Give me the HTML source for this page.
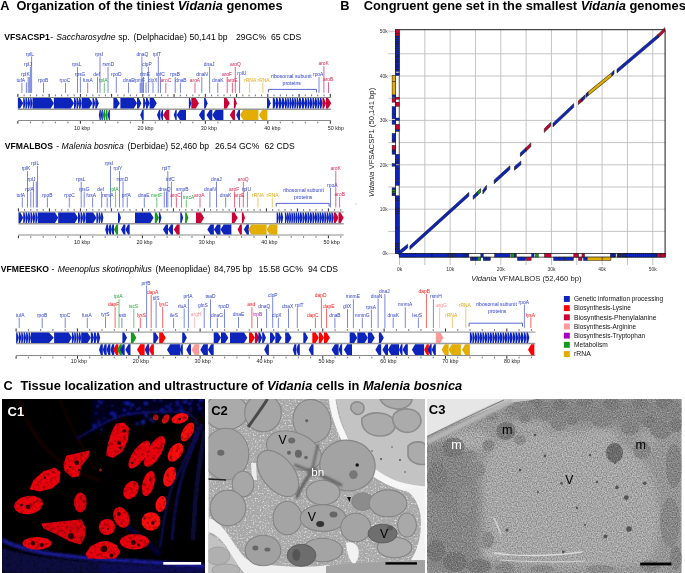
<!DOCTYPE html>
<html><head><meta charset="utf-8"><title>Vidania genomes figure</title>
<style>html,body{margin:0;padding:0;background:#fff;width:685px;height:573px;overflow:hidden}
body>svg{display:block;font-family:"Liberation Sans",sans-serif;will-change:transform;filter:blur(0.35px)}</style></head>
<body><svg width="685" height="573" viewBox="0 0 685 573">
<defs>
<filter id="blur1" x="-10%" y="-10%" width="120%" height="120%"><feGaussianBlur stdDeviation="1.2"/></filter>
<filter id="blur2" x="-10%" y="-10%" width="120%" height="120%"><feGaussianBlur stdDeviation="0.5"/></filter>
<filter id="noise" x="0" y="0" width="100%" height="100%"><feTurbulence type="fractalNoise" baseFrequency="0.35" numOctaves="2" seed="3"/><feColorMatrix type="matrix" values="0 0 0 0 0.55  0 0 0 0 0.55  0 0 0 0 0.55  0 0 0 1.6 -0.45"/><feComposite in2="SourceGraphic" operator="in"/></filter>
<filter id="blur3" x="-20%" y="-20%" width="140%" height="140%"><feGaussianBlur stdDeviation="3"/></filter>
<filter id="blur4" x="-10%" y="-10%" width="120%" height="120%"><feGaussianBlur stdDeviation="3.5"/></filter>
<filter id="speck" x="0" y="0" width="100%" height="100%"><feTurbulence type="fractalNoise" baseFrequency="0.6" numOctaves="2" seed="11"/><feColorMatrix type="matrix" values="0 0 0 0 0.95  0 0 0 0 0.95  0 0 0 0 0.95  2.6 0 0 0 -1.4"/><feComposite in2="SourceGraphic" operator="in"/></filter>
<filter id="speckd" x="0" y="0" width="100%" height="100%"><feTurbulence type="fractalNoise" baseFrequency="0.5" numOctaves="2" seed="5"/><feColorMatrix type="matrix" values="0 0 0 0 0.3  0 0 0 0 0.3  0 0 0 0 0.3  -3 0 0 0 1.12"/><feComposite in2="SourceGraphic" operator="in"/></filter>
<filter id="grainL" x="0" y="0" width="100%" height="100%"><feTurbulence type="fractalNoise" baseFrequency="0.8" numOctaves="1" seed="21"/><feColorMatrix type="matrix" values="0 0 0 0 1  0 0 0 0 1  0 0 0 0 1  0.7 0 0 0 -0.25"/><feComposite in2="SourceGraphic" operator="in"/></filter>
<filter id="grainD" x="0" y="0" width="100%" height="100%"><feTurbulence type="fractalNoise" baseFrequency="0.8" numOctaves="1" seed="22"/><feColorMatrix type="matrix" values="0 0 0 0 0  0 0 0 0 0  0 0 0 0 0  0.7 0 0 0 -0.25"/><feComposite in2="SourceGraphic" operator="in"/></filter>
<filter id="rednoise" x="0" y="0" width="100%" height="100%"><feTurbulence type="fractalNoise" baseFrequency="0.3" numOctaves="2" seed="9"/><feColorMatrix type="matrix" values="0 0 0 0 0  0 0 0 0 0  0 0 0 0 0  -1.1 0 0 0 0.58"/><feComposite in2="SourceGraphic" operator="in"/></filter>
<filter id="noise2" x="0" y="0" width="100%" height="100%"><feTurbulence type="fractalNoise" baseFrequency="0.12" numOctaves="3" seed="7"/><feColorMatrix type="matrix" values="0 0 0 0 0.3  0 0 0 0 0.3  0 0 0 0 0.3  0 0 0 2.2 -0.9"/><feComposite in2="SourceGraphic" operator="in"/></filter>
</defs>
<text x="0.3" y="10" font-size="12.8" fill="#000" font-weight="bold">A</text>
<text x="16.4" y="10.0" font-size="12.8" font-weight="bold">Organization of the tiniest <tspan font-style="italic">Vidania</tspan> genomes</text>
<text x="340.2" y="10" font-size="12.8" fill="#000" font-weight="bold">B</text>
<text x="363.7" y="10.0" font-size="12.85" font-weight="bold">Congruent gene set in the smallest <tspan font-style="italic">Vidania</tspan> genomes</text>
<text x="3.5" y="390.2" font-size="12.75" fill="#000" font-weight="bold">C</text>
<text x="20.4" y="390.2" font-size="12.85" font-weight="bold">Tissue localization and ultrastructure of <tspan font-style="italic">Vidania</tspan> cells in <tspan font-style="italic">Malenia bosnica</tspan></text>
<text x="4.3" y="39.7" font-size="8.6" fill="#000" font-weight="bold">VFSACSP1</text>
<text x="50.3" y="39.7" font-size="8.6" fill="#000">-</text>
<text x="56.3" y="39.7" font-size="8.6" fill="#000" font-style="italic">Saccharosydne</text>
<text x="118.2" y="39.7" font-size="8.6" fill="#000">sp.</text>
<text x="133.4" y="39.7" font-size="8.6" fill="#000">(Delphacidae)</text>
<text x="189.4" y="39.7" font-size="8.6" fill="#000">50,141 bp</text>
<text x="236" y="39.7" font-size="8.6" fill="#000">29GC%</text>
<text x="271.1" y="39.7" font-size="8.6" fill="#000">65 CDS</text>
<text x="4.8" y="149.4" font-size="8.6" fill="#000" font-weight="bold">VFMALBOS</text>
<text x="56.2" y="149.4" font-size="8.6" fill="#000">-</text>
<text x="61.6" y="149.4" font-size="8.6" fill="#000" font-style="italic">Malenia bosnica</text>
<text x="127.5" y="149.4" font-size="8.6" fill="#000">(Derbidae)</text>
<text x="170.8" y="149.4" font-size="8.6" fill="#000">52,460 bp</text>
<text x="215" y="149.4" font-size="8.6" fill="#000">26.54 GC%</text>
<text x="264.6" y="149.4" font-size="8.6" fill="#000">62 CDS</text>
<text x="0.8" y="271.7" font-size="8.6" fill="#000" font-weight="bold">VFMEESKO</text>
<text x="51.6" y="271.7" font-size="8.6" fill="#000">-</text>
<text x="57.8" y="271.7" font-size="8.6" fill="#000" font-style="italic">Meenoplus skotinophilus</text>
<text x="155.5" y="271.7" font-size="8.6" fill="#000">(Meenoplidae)</text>
<text x="213.9" y="271.7" font-size="8.6" fill="#000">84,795 bp</text>
<text x="258.5" y="271.7" font-size="8.6" fill="#000">15.58 GC%</text>
<text x="308" y="271.7" font-size="8.6" fill="#000">94 CDS</text>
<line x1="17.9" y1="97.5" x2="331.2" y2="97.5" stroke="#8a8a8a" stroke-width="1"/>
<line x1="17.9" y1="109.2" x2="331.2" y2="109.2" stroke="#9a9a9a" stroke-width="1.4"/>
<line x1="17.9" y1="120.5" x2="331.2" y2="120.5" stroke="#8a8a8a" stroke-width="1"/>
<line x1="17.9" y1="93.9" x2="17.9" y2="96.9" stroke="#222" stroke-width="1"/>
<line x1="24.15" y1="94.5" x2="24.15" y2="96.3" stroke="#555" stroke-width="0.85"/>
<line x1="30.4" y1="94.5" x2="30.4" y2="96.3" stroke="#555" stroke-width="0.85"/>
<line x1="36.64" y1="94.5" x2="36.64" y2="96.3" stroke="#555" stroke-width="0.85"/>
<line x1="42.89" y1="94.5" x2="42.89" y2="96.3" stroke="#555" stroke-width="0.85"/>
<line x1="49.14" y1="93.9" x2="49.14" y2="96.9" stroke="#222" stroke-width="1"/>
<line x1="55.39" y1="94.5" x2="55.39" y2="96.3" stroke="#555" stroke-width="0.85"/>
<line x1="61.64" y1="94.5" x2="61.64" y2="96.3" stroke="#555" stroke-width="0.85"/>
<line x1="67.88" y1="94.5" x2="67.88" y2="96.3" stroke="#555" stroke-width="0.85"/>
<line x1="74.13" y1="94.5" x2="74.13" y2="96.3" stroke="#555" stroke-width="0.85"/>
<line x1="80.38" y1="93.9" x2="80.38" y2="96.9" stroke="#222" stroke-width="1"/>
<line x1="86.63" y1="94.5" x2="86.63" y2="96.3" stroke="#555" stroke-width="0.85"/>
<line x1="92.88" y1="94.5" x2="92.88" y2="96.3" stroke="#555" stroke-width="0.85"/>
<line x1="99.12" y1="94.5" x2="99.12" y2="96.3" stroke="#555" stroke-width="0.85"/>
<line x1="105.37" y1="94.5" x2="105.37" y2="96.3" stroke="#555" stroke-width="0.85"/>
<line x1="111.62" y1="93.9" x2="111.62" y2="96.9" stroke="#222" stroke-width="1"/>
<line x1="117.87" y1="94.5" x2="117.87" y2="96.3" stroke="#555" stroke-width="0.85"/>
<line x1="124.12" y1="94.5" x2="124.12" y2="96.3" stroke="#555" stroke-width="0.85"/>
<line x1="130.36" y1="94.5" x2="130.36" y2="96.3" stroke="#555" stroke-width="0.85"/>
<line x1="136.61" y1="94.5" x2="136.61" y2="96.3" stroke="#555" stroke-width="0.85"/>
<line x1="142.86" y1="93.9" x2="142.86" y2="96.9" stroke="#222" stroke-width="1"/>
<line x1="149.11" y1="94.5" x2="149.11" y2="96.3" stroke="#555" stroke-width="0.85"/>
<line x1="155.36" y1="94.5" x2="155.36" y2="96.3" stroke="#555" stroke-width="0.85"/>
<line x1="161.6" y1="94.5" x2="161.6" y2="96.3" stroke="#555" stroke-width="0.85"/>
<line x1="167.85" y1="94.5" x2="167.85" y2="96.3" stroke="#555" stroke-width="0.85"/>
<line x1="174.1" y1="93.9" x2="174.1" y2="96.9" stroke="#222" stroke-width="1"/>
<line x1="180.35" y1="94.5" x2="180.35" y2="96.3" stroke="#555" stroke-width="0.85"/>
<line x1="186.6" y1="94.5" x2="186.6" y2="96.3" stroke="#555" stroke-width="0.85"/>
<line x1="192.84" y1="94.5" x2="192.84" y2="96.3" stroke="#555" stroke-width="0.85"/>
<line x1="199.09" y1="94.5" x2="199.09" y2="96.3" stroke="#555" stroke-width="0.85"/>
<line x1="205.34" y1="93.9" x2="205.34" y2="96.9" stroke="#222" stroke-width="1"/>
<line x1="211.59" y1="94.5" x2="211.59" y2="96.3" stroke="#555" stroke-width="0.85"/>
<line x1="217.84" y1="94.5" x2="217.84" y2="96.3" stroke="#555" stroke-width="0.85"/>
<line x1="224.08" y1="94.5" x2="224.08" y2="96.3" stroke="#555" stroke-width="0.85"/>
<line x1="230.33" y1="94.5" x2="230.33" y2="96.3" stroke="#555" stroke-width="0.85"/>
<line x1="236.58" y1="93.9" x2="236.58" y2="96.9" stroke="#222" stroke-width="1"/>
<line x1="242.83" y1="94.5" x2="242.83" y2="96.3" stroke="#555" stroke-width="0.85"/>
<line x1="249.08" y1="94.5" x2="249.08" y2="96.3" stroke="#555" stroke-width="0.85"/>
<line x1="255.32" y1="94.5" x2="255.32" y2="96.3" stroke="#555" stroke-width="0.85"/>
<line x1="261.57" y1="94.5" x2="261.57" y2="96.3" stroke="#555" stroke-width="0.85"/>
<line x1="267.82" y1="93.9" x2="267.82" y2="96.9" stroke="#222" stroke-width="1"/>
<line x1="274.07" y1="94.5" x2="274.07" y2="96.3" stroke="#555" stroke-width="0.85"/>
<line x1="280.32" y1="94.5" x2="280.32" y2="96.3" stroke="#555" stroke-width="0.85"/>
<line x1="286.56" y1="94.5" x2="286.56" y2="96.3" stroke="#555" stroke-width="0.85"/>
<line x1="292.81" y1="94.5" x2="292.81" y2="96.3" stroke="#555" stroke-width="0.85"/>
<line x1="299.06" y1="93.9" x2="299.06" y2="96.9" stroke="#222" stroke-width="1"/>
<line x1="305.31" y1="94.5" x2="305.31" y2="96.3" stroke="#555" stroke-width="0.85"/>
<line x1="311.56" y1="94.5" x2="311.56" y2="96.3" stroke="#555" stroke-width="0.85"/>
<line x1="317.8" y1="94.5" x2="317.8" y2="96.3" stroke="#555" stroke-width="0.85"/>
<line x1="324.05" y1="94.5" x2="324.05" y2="96.3" stroke="#555" stroke-width="0.85"/>
<line x1="330.3" y1="93.9" x2="330.3" y2="96.9" stroke="#222" stroke-width="1"/>
<line x1="17.9" y1="121.1" x2="17.9" y2="123.7" stroke="#222" stroke-width="1"/>
<line x1="30.4" y1="121.7" x2="30.4" y2="123.3" stroke="#555" stroke-width="0.85"/>
<line x1="42.89" y1="121.7" x2="42.89" y2="123.3" stroke="#555" stroke-width="0.85"/>
<line x1="55.39" y1="121.7" x2="55.39" y2="123.3" stroke="#555" stroke-width="0.85"/>
<line x1="67.88" y1="121.7" x2="67.88" y2="123.3" stroke="#555" stroke-width="0.85"/>
<line x1="80.38" y1="121.1" x2="80.38" y2="123.7" stroke="#222" stroke-width="1"/>
<line x1="92.88" y1="121.7" x2="92.88" y2="123.3" stroke="#555" stroke-width="0.85"/>
<line x1="105.37" y1="121.7" x2="105.37" y2="123.3" stroke="#555" stroke-width="0.85"/>
<line x1="117.87" y1="121.7" x2="117.87" y2="123.3" stroke="#555" stroke-width="0.85"/>
<line x1="130.36" y1="121.7" x2="130.36" y2="123.3" stroke="#555" stroke-width="0.85"/>
<line x1="142.86" y1="121.1" x2="142.86" y2="123.7" stroke="#222" stroke-width="1"/>
<line x1="155.36" y1="121.7" x2="155.36" y2="123.3" stroke="#555" stroke-width="0.85"/>
<line x1="167.85" y1="121.7" x2="167.85" y2="123.3" stroke="#555" stroke-width="0.85"/>
<line x1="180.35" y1="121.7" x2="180.35" y2="123.3" stroke="#555" stroke-width="0.85"/>
<line x1="192.84" y1="121.7" x2="192.84" y2="123.3" stroke="#555" stroke-width="0.85"/>
<line x1="205.34" y1="121.1" x2="205.34" y2="123.7" stroke="#222" stroke-width="1"/>
<line x1="217.84" y1="121.7" x2="217.84" y2="123.3" stroke="#555" stroke-width="0.85"/>
<line x1="230.33" y1="121.7" x2="230.33" y2="123.3" stroke="#555" stroke-width="0.85"/>
<line x1="242.83" y1="121.7" x2="242.83" y2="123.3" stroke="#555" stroke-width="0.85"/>
<line x1="255.32" y1="121.7" x2="255.32" y2="123.3" stroke="#555" stroke-width="0.85"/>
<line x1="267.82" y1="121.1" x2="267.82" y2="123.7" stroke="#222" stroke-width="1"/>
<line x1="280.32" y1="121.7" x2="280.32" y2="123.3" stroke="#555" stroke-width="0.85"/>
<line x1="292.81" y1="121.7" x2="292.81" y2="123.3" stroke="#555" stroke-width="0.85"/>
<line x1="305.31" y1="121.7" x2="305.31" y2="123.3" stroke="#555" stroke-width="0.85"/>
<line x1="317.8" y1="121.7" x2="317.8" y2="123.3" stroke="#555" stroke-width="0.85"/>
<line x1="330.3" y1="121.1" x2="330.3" y2="123.7" stroke="#222" stroke-width="1"/>
<text x="82.05" y="129.6" font-size="5.4" fill="#222" text-anchor="middle">10 kbp</text>
<text x="145.5" y="129.6" font-size="5.4" fill="#222" text-anchor="middle">20 kbp</text>
<text x="208.95" y="129.6" font-size="5.4" fill="#222" text-anchor="middle">30 kbp</text>
<text x="272.4" y="129.6" font-size="5.4" fill="#222" text-anchor="middle">40 kbp</text>
<text x="335.85" y="129.6" font-size="5.4" fill="#222" text-anchor="middle">50 kbp</text>
<polygon points="17.9,97.9 20.02,97.9 23.2,103.15 20.02,108.4 17.9,108.4" fill="#0d24bc"/>
<polygon points="23.2,97.9 24.41,97.9 25.52,103.15 24.41,108.4 23.2,108.4" fill="#0d24bc"/>
<polygon points="25.52,97.9 26.73,97.9 27.85,103.15 26.73,108.4 25.52,108.4" fill="#0d24bc"/>
<polygon points="27.85,97.9 29.06,97.9 30.18,103.15 29.06,108.4 27.85,108.4" fill="#0d24bc"/>
<polygon points="30.18,97.9 31.38,97.9 32.5,103.15 31.38,108.4 30.18,108.4" fill="#0d24bc"/>
<polygon points="32.5,97.9 50.7,97.9 53.9,103.15 50.7,108.4 32.5,108.4" fill="#0d24bc"/>
<polygon points="53.9,97.9 70.8,97.9 74,103.15 70.8,108.4 53.9,108.4" fill="#0d24bc"/>
<polygon points="74,97.9 75.32,97.9 76.53,103.15 75.32,108.4 74,108.4" fill="#0d24bc"/>
<polygon points="76.53,97.9 77.85,97.9 79.07,103.15 77.85,108.4 76.53,108.4" fill="#0d24bc"/>
<polygon points="79.07,97.9 80.38,97.9 81.6,103.15 80.38,108.4 79.07,108.4" fill="#0d24bc"/>
<polygon points="81.6,97.9 89.3,97.9 92.5,103.15 89.3,108.4 81.6,108.4" fill="#0d24bc"/>
<polygon points="92.5,97.9 93.62,97.9 95.3,103.15 93.62,108.4 92.5,108.4" fill="#0d24bc"/>
<polygon points="95.3,97.9 96.7,97.9 98.8,103.15 96.7,108.4 95.3,108.4" fill="#0d24bc"/>
<polygon points="113.4,97.9 116.6,97.9 119.8,103.15 116.6,108.4 113.4,108.4" fill="#0d24bc"/>
<polygon points="120.4,97.9 133.8,97.9 137,103.15 133.8,108.4 120.4,108.4" fill="#0d24bc"/>
<polygon points="137,97.9 138.76,97.9 141.4,103.15 138.76,108.4 137,108.4" fill="#0d24bc"/>
<polygon points="143.1,97.9 144.26,97.9 146,103.15 144.26,108.4 143.1,108.4" fill="#0d24bc"/>
<polygon points="146,97.9 147.44,97.9 149.6,103.15 147.44,108.4 146,108.4" fill="#0d24bc"/>
<polygon points="149.6,97.9 153.6,97.9 156.8,103.15 153.6,108.4 149.6,108.4" fill="#0d24bc"/>
<polygon points="188.9,97.9 189.86,97.9 191.3,103.15 189.86,108.4 188.9,108.4" fill="#0d24bc"/>
<polygon points="191.3,97.9 195.7,97.9 198.9,103.15 195.7,108.4 191.3,108.4" fill="#c80034"/>
<polygon points="204.1,97.9 205.5,97.9 207.6,103.15 205.5,108.4 204.1,108.4" fill="#0d24bc"/>
<polygon points="224,97.9 226.6,97.9 229.8,103.15 226.6,108.4 224,108.4" fill="#c80034"/>
<polygon points="233.9,97.9 235.06,97.9 236.8,103.15 235.06,108.4 233.9,108.4" fill="#c80034"/>
<polygon points="267,97.9 268.48,97.9 270.7,103.15 268.48,108.4 267,108.4" fill="#0d24bc"/>
<polygon points="272.8,97.9 274.39,97.9 275.85,103.15 274.39,108.4 272.8,108.4" fill="#0d24bc"/>
<polygon points="275.85,97.9 277.44,97.9 278.9,103.15 277.44,108.4 275.85,108.4" fill="#0d24bc"/>
<polygon points="278.9,97.9 280.49,97.9 281.95,103.15 280.49,108.4 278.9,108.4" fill="#0d24bc"/>
<polygon points="281.95,97.9 283.54,97.9 285,103.15 283.54,108.4 281.95,108.4" fill="#0d24bc"/>
<polygon points="285,97.9 286.21,97.9 287.33,103.15 286.21,108.4 285,108.4" fill="#0d24bc"/>
<polygon points="287.33,97.9 288.55,97.9 289.67,103.15 288.55,108.4 287.33,108.4" fill="#0d24bc"/>
<polygon points="289.67,97.9 290.88,97.9 292,103.15 290.88,108.4 289.67,108.4" fill="#0d24bc"/>
<polygon points="292,97.9 293.21,97.9 294.33,103.15 293.21,108.4 292,108.4" fill="#0d24bc"/>
<polygon points="294.33,97.9 295.55,97.9 296.67,103.15 295.55,108.4 294.33,108.4" fill="#0d24bc"/>
<polygon points="296.67,97.9 297.88,97.9 299,103.15 297.88,108.4 296.67,108.4" fill="#0d24bc"/>
<polygon points="299,97.9 300.56,97.9 302,103.15 300.56,108.4 299,108.4" fill="#0d24bc"/>
<polygon points="302,97.9 303.56,97.9 305,103.15 303.56,108.4 302,108.4" fill="#0d24bc"/>
<polygon points="305,97.9 306.3,97.9 307.5,103.15 306.3,108.4 305,108.4" fill="#0d24bc"/>
<polygon points="307.5,97.9 308.8,97.9 310,103.15 308.8,108.4 307.5,108.4" fill="#0d24bc"/>
<polygon points="310,97.9 311.3,97.9 312.5,103.15 311.3,108.4 310,108.4" fill="#0d24bc"/>
<polygon points="312.5,97.9 313.8,97.9 315,103.15 313.8,108.4 312.5,108.4" fill="#0d24bc"/>
<polygon points="315,97.9 316.3,97.9 317.5,103.15 316.3,108.4 315,108.4" fill="#0d24bc"/>
<polygon points="317.5,97.9 318.8,97.9 320,103.15 318.8,108.4 317.5,108.4" fill="#0d24bc"/>
<polygon points="320,97.9 321.3,97.9 322.5,103.15 321.3,108.4 320,108.4" fill="#0d24bc"/>
<polygon points="322.5,97.9 323.9,97.9 326,103.15 323.9,108.4 322.5,108.4" fill="#c80034"/>
<polygon points="326,97.9 328.08,97.9 331.2,103.15 328.08,108.4 326,108.4" fill="#c80034"/>
<polygon points="100.8,110 99.76,110 98.8,114.95 99.76,119.9 100.8,119.9" fill="#0d24bc"/>
<polygon points="102.8,110 101.76,110 100.8,114.95 101.76,119.9 102.8,119.9" fill="#0d24bc"/>
<polygon points="105.15,110 103.93,110 102.8,114.95 103.93,119.9 105.15,119.9" fill="#129a1c"/>
<polygon points="107.5,110 106.28,110 105.15,114.95 106.28,119.9 107.5,119.9" fill="#129a1c"/>
<polygon points="109.9,110 108.94,110 107.5,114.95 108.94,119.9 109.9,119.9" fill="#0d24bc"/>
<polygon points="143.7,110 142.3,110 140.2,114.95 142.3,119.9 143.7,119.9" fill="#0d24bc"/>
<polygon points="160.4,110 159.04,110 157,114.95 159.04,119.9 160.4,119.9" fill="#0d24bc"/>
<polygon points="163,110 161.96,110 160.4,114.95 161.96,119.9 163,119.9" fill="#0d24bc"/>
<polygon points="169.3,110 166.2,110 163,114.95 166.2,119.9 169.3,119.9" fill="#c80034"/>
<polygon points="176.7,110 175.54,110 173.8,114.95 175.54,119.9 176.7,119.9" fill="#0d24bc"/>
<polygon points="186,110 179.9,110 176.7,114.95 179.9,119.9 186,119.9" fill="#0d24bc"/>
<polygon points="204.7,110 202.1,110 198.9,114.95 202.1,119.9 204.7,119.9" fill="#0d24bc"/>
<polygon points="212.3,110 209.7,110 206.5,114.95 209.7,119.9 212.3,119.9" fill="#0d24bc"/>
<polygon points="223.4,110 215.5,110 212.3,114.95 215.5,119.9 223.4,119.9" fill="#0d24bc"/>
<polygon points="235,110 232.92,110 229.8,114.95 232.92,119.9 235,119.9" fill="#c80034"/>
<polygon points="240,110 238.48,110 236.2,114.95 238.48,119.9 240,119.9" fill="#0d24bc"/>
<polygon points="258.4,110 243.2,110 240,114.95 243.2,119.9 258.4,119.9" fill="#e4ad02"/>
<polygon points="267.4,110 262.2,110 259,114.95 262.2,119.9 267.4,119.9" fill="#e4ad02"/>
<text x="25.8" y="55.5" font-size="4.9" fill="#2a3cc8">rplL</text>
<line x1="31.6" y1="56.4" x2="31.6" y2="92.9" stroke="#5060d0" stroke-width="0.75"/>
<text x="24" y="66" font-size="4.9" fill="#2a3cc8">rplJ</text>
<line x1="30.4" y1="66.9" x2="30.4" y2="92.9" stroke="#5060d0" stroke-width="0.75"/>
<text x="21" y="76" font-size="4.9" fill="#2a3cc8">rplK</text>
<line x1="28.2" y1="76.9" x2="28.2" y2="92.9" stroke="#5060d0" stroke-width="0.75"/>
<text x="16.4" y="81.8" font-size="4.9" fill="#2a3cc8">tufA</text>
<line x1="21.9" y1="82.7" x2="21.9" y2="92.9" stroke="#5060d0" stroke-width="0.75"/>
<text x="38" y="81.8" font-size="4.9" fill="#2a3cc8">rpoB</text>
<line x1="43.5" y1="82.7" x2="43.5" y2="92.9" stroke="#5060d0" stroke-width="0.75"/>
<text x="59.6" y="81.8" font-size="4.9" fill="#2a3cc8">rpoC</text>
<line x1="65.5" y1="82.7" x2="65.5" y2="92.9" stroke="#5060d0" stroke-width="0.75"/>
<text x="71.9" y="66" font-size="4.9" fill="#2a3cc8">rpsL</text>
<line x1="77.5" y1="66.9" x2="77.5" y2="92.9" stroke="#5060d0" stroke-width="0.75"/>
<text x="74.8" y="76" font-size="4.9" fill="#2a3cc8">rpsG</text>
<line x1="80.4" y1="76.9" x2="80.4" y2="92.9" stroke="#5060d0" stroke-width="0.75"/>
<text x="83" y="81.8" font-size="4.9" fill="#2a3cc8">fusA</text>
<line x1="87.7" y1="82.7" x2="87.7" y2="92.9" stroke="#5060d0" stroke-width="0.75"/>
<text x="94.9" y="55.5" font-size="4.9" fill="#2a3cc8">rpsI</text>
<line x1="100" y1="56.4" x2="100" y2="92.9" stroke="#5060d0" stroke-width="0.75"/>
<text x="102.5" y="66" font-size="4.9" fill="#2a3cc8">rsmD</text>
<line x1="108" y1="66.9" x2="108" y2="92.9" stroke="#5060d0" stroke-width="0.75"/>
<text x="93.2" y="76" font-size="4.9" fill="#2a3cc8">def</text>
<line x1="97.5" y1="76.9" x2="97.5" y2="92.9" stroke="#5060d0" stroke-width="0.75"/>
<text x="98.8" y="81.8" font-size="4.9" fill="#20a030">rplA</text>
<line x1="104.3" y1="82.7" x2="104.3" y2="92.9" stroke="#40b050" stroke-width="0.75"/>
<text x="111" y="76" font-size="4.9" fill="#2a3cc8">rpoD</text>
<line x1="116.3" y1="76.9" x2="116.3" y2="92.9" stroke="#5060d0" stroke-width="0.75"/>
<text x="123" y="81.8" font-size="4.9" fill="#2a3cc8">dnaE</text>
<line x1="128.5" y1="82.7" x2="128.5" y2="92.9" stroke="#5060d0" stroke-width="0.75"/>
<text x="133.6" y="81.8" font-size="4.9" fill="#2a3cc8">rpmF</text>
<line x1="141" y1="82.7" x2="141" y2="92.9" stroke="#5060d0" stroke-width="0.75"/>
<text x="136.4" y="55.5" font-size="4.9" fill="#2a3cc8">dnaQ</text>
<line x1="141.9" y1="56.4" x2="141.9" y2="92.9" stroke="#5060d0" stroke-width="0.75"/>
<text x="142.2" y="66" font-size="4.9" fill="#2a3cc8">clpP</text>
<line x1="148.4" y1="66.9" x2="148.4" y2="92.9" stroke="#5060d0" stroke-width="0.75"/>
<text x="139.9" y="76" font-size="4.9" fill="#2a3cc8">rlmE</text>
<line x1="143.5" y1="76.9" x2="143.5" y2="92.9" stroke="#5060d0" stroke-width="0.75"/>
<text x="152.7" y="55.5" font-size="4.9" fill="#2a3cc8">rplT</text>
<line x1="158.3" y1="56.4" x2="158.3" y2="92.9" stroke="#5060d0" stroke-width="0.75"/>
<text x="156.2" y="76" font-size="4.9" fill="#2a3cc8">infC</text>
<line x1="160.5" y1="76.9" x2="160.5" y2="92.9" stroke="#5060d0" stroke-width="0.75"/>
<text x="148" y="81.8" font-size="4.9" fill="#2a3cc8">clpX</text>
<line x1="153" y1="82.7" x2="153" y2="92.9" stroke="#5060d0" stroke-width="0.75"/>
<text x="160.6" y="81.8" font-size="4.9" fill="#d8204f">aroC</text>
<line x1="165.8" y1="82.7" x2="165.8" y2="92.9" stroke="#d83060" stroke-width="0.75"/>
<text x="170" y="76" font-size="4.9" fill="#2a3cc8">rpsB</text>
<line x1="175.2" y1="76.9" x2="175.2" y2="92.9" stroke="#5060d0" stroke-width="0.75"/>
<text x="175.2" y="81.8" font-size="4.9" fill="#2a3cc8">dnaB</text>
<line x1="180.4" y1="82.7" x2="180.4" y2="92.9" stroke="#5060d0" stroke-width="0.75"/>
<text x="189.8" y="81.8" font-size="4.9" fill="#d8204f">aroA</text>
<line x1="195" y1="82.7" x2="195" y2="92.9" stroke="#d83060" stroke-width="0.75"/>
<text x="196.2" y="76" font-size="4.9" fill="#2a3cc8">dnaN</text>
<line x1="201.8" y1="76.9" x2="201.8" y2="92.9" stroke="#5060d0" stroke-width="0.75"/>
<text x="203.8" y="66" font-size="4.9" fill="#2a3cc8">dnaJ</text>
<line x1="209.6" y1="66.9" x2="209.6" y2="92.9" stroke="#5060d0" stroke-width="0.75"/>
<text x="212" y="81.8" font-size="4.9" fill="#2a3cc8">dnaK</text>
<line x1="217.8" y1="82.7" x2="217.8" y2="92.9" stroke="#5060d0" stroke-width="0.75"/>
<text x="221.9" y="76" font-size="4.9" fill="#d8204f">aroF</text>
<line x1="227.2" y1="76.9" x2="227.2" y2="92.9" stroke="#d83060" stroke-width="0.75"/>
<text x="227.2" y="81.8" font-size="4.9" fill="#d8204f">aroE</text>
<line x1="232.4" y1="82.7" x2="232.4" y2="92.9" stroke="#d83060" stroke-width="0.75"/>
<text x="230" y="66" font-size="4.9" fill="#d8204f">aroQ</text>
<line x1="235.3" y1="66.9" x2="235.3" y2="92.9" stroke="#d83060" stroke-width="0.75"/>
<text x="237.3" y="74.5" font-size="4.9" fill="#2a3cc8">rplU</text>
<line x1="239.6" y1="75.4" x2="239.6" y2="92.9" stroke="#5060d0" stroke-width="0.75"/>
<text x="244.2" y="81.7" font-size="4.9" fill="#e0a810">rRNA</text>
<line x1="249.6" y1="82.6" x2="249.6" y2="92.9" stroke="#e8b840" stroke-width="0.75"/>
<text x="257.6" y="81.7" font-size="4.9" fill="#e0a810">rRNA</text>
<line x1="262.9" y1="82.6" x2="262.9" y2="92.9" stroke="#e8b840" stroke-width="0.75"/>
<text x="313" y="76" font-size="4.9" fill="#2a3cc8">rpoA</text>
<line x1="319" y1="76.9" x2="319" y2="92.9" stroke="#5060d0" stroke-width="0.75"/>
<text x="318.5" y="65.3" font-size="4.9" fill="#d8204f">aroK</text>
<line x1="323.9" y1="66.2" x2="323.9" y2="92.9" stroke="#d83060" stroke-width="0.75"/>
<text x="323" y="81.4" font-size="4.9" fill="#d8204f">aroB</text>
<line x1="328.5" y1="82.3" x2="328.5" y2="92.9" stroke="#d83060" stroke-width="0.75"/>
<line x1="26.4" y1="82.5" x2="26.4" y2="92.9" stroke="#5060d0" stroke-width="0.75"/>
<line x1="29.3" y1="77" x2="29.3" y2="92.9" stroke="#5060d0" stroke-width="0.75"/>
<line x1="140.2" y1="82.5" x2="140.2" y2="92.9" stroke="#5060d0" stroke-width="0.75"/>
<line x1="142.8" y1="82.5" x2="142.8" y2="92.9" stroke="#5060d0" stroke-width="0.75"/>
<line x1="146" y1="82.5" x2="146" y2="92.9" stroke="#5060d0" stroke-width="0.75"/>
<text x="271" y="78.3" font-size="5.2" fill="#2a3cc8">ribosomal subunit</text>
<text x="282.5" y="84.8" font-size="5.2" fill="#2a3cc8">proteins</text>
<path d="M268.4 92.4 V89.4 H316.5 V92.4" fill="none" stroke="#3040c8" stroke-width="0.8"/>
<line x1="18.4" y1="212" x2="343.7" y2="212" stroke="#8a8a8a" stroke-width="1"/>
<line x1="18.4" y1="223.7" x2="343.7" y2="223.7" stroke="#9a9a9a" stroke-width="1.4"/>
<line x1="18.4" y1="235" x2="343.7" y2="235" stroke="#8a8a8a" stroke-width="1"/>
<line x1="18.4" y1="208.4" x2="18.4" y2="211.4" stroke="#222" stroke-width="1"/>
<line x1="24.6" y1="209" x2="24.6" y2="210.8" stroke="#555" stroke-width="0.85"/>
<line x1="30.8" y1="209" x2="30.8" y2="210.8" stroke="#555" stroke-width="0.85"/>
<line x1="37" y1="209" x2="37" y2="210.8" stroke="#555" stroke-width="0.85"/>
<line x1="43.2" y1="209" x2="43.2" y2="210.8" stroke="#555" stroke-width="0.85"/>
<line x1="49.4" y1="208.4" x2="49.4" y2="211.4" stroke="#222" stroke-width="1"/>
<line x1="55.6" y1="209" x2="55.6" y2="210.8" stroke="#555" stroke-width="0.85"/>
<line x1="61.8" y1="209" x2="61.8" y2="210.8" stroke="#555" stroke-width="0.85"/>
<line x1="68" y1="209" x2="68" y2="210.8" stroke="#555" stroke-width="0.85"/>
<line x1="74.2" y1="209" x2="74.2" y2="210.8" stroke="#555" stroke-width="0.85"/>
<line x1="80.4" y1="208.4" x2="80.4" y2="211.4" stroke="#222" stroke-width="1"/>
<line x1="86.6" y1="209" x2="86.6" y2="210.8" stroke="#555" stroke-width="0.85"/>
<line x1="92.8" y1="209" x2="92.8" y2="210.8" stroke="#555" stroke-width="0.85"/>
<line x1="99" y1="209" x2="99" y2="210.8" stroke="#555" stroke-width="0.85"/>
<line x1="105.2" y1="209" x2="105.2" y2="210.8" stroke="#555" stroke-width="0.85"/>
<line x1="111.4" y1="208.4" x2="111.4" y2="211.4" stroke="#222" stroke-width="1"/>
<line x1="117.6" y1="209" x2="117.6" y2="210.8" stroke="#555" stroke-width="0.85"/>
<line x1="123.8" y1="209" x2="123.8" y2="210.8" stroke="#555" stroke-width="0.85"/>
<line x1="130" y1="209" x2="130" y2="210.8" stroke="#555" stroke-width="0.85"/>
<line x1="136.2" y1="209" x2="136.2" y2="210.8" stroke="#555" stroke-width="0.85"/>
<line x1="142.4" y1="208.4" x2="142.4" y2="211.4" stroke="#222" stroke-width="1"/>
<line x1="148.6" y1="209" x2="148.6" y2="210.8" stroke="#555" stroke-width="0.85"/>
<line x1="154.8" y1="209" x2="154.8" y2="210.8" stroke="#555" stroke-width="0.85"/>
<line x1="161" y1="209" x2="161" y2="210.8" stroke="#555" stroke-width="0.85"/>
<line x1="167.2" y1="209" x2="167.2" y2="210.8" stroke="#555" stroke-width="0.85"/>
<line x1="173.4" y1="208.4" x2="173.4" y2="211.4" stroke="#222" stroke-width="1"/>
<line x1="179.6" y1="209" x2="179.6" y2="210.8" stroke="#555" stroke-width="0.85"/>
<line x1="185.8" y1="209" x2="185.8" y2="210.8" stroke="#555" stroke-width="0.85"/>
<line x1="192" y1="209" x2="192" y2="210.8" stroke="#555" stroke-width="0.85"/>
<line x1="198.2" y1="209" x2="198.2" y2="210.8" stroke="#555" stroke-width="0.85"/>
<line x1="204.4" y1="208.4" x2="204.4" y2="211.4" stroke="#222" stroke-width="1"/>
<line x1="210.6" y1="209" x2="210.6" y2="210.8" stroke="#555" stroke-width="0.85"/>
<line x1="216.8" y1="209" x2="216.8" y2="210.8" stroke="#555" stroke-width="0.85"/>
<line x1="223" y1="209" x2="223" y2="210.8" stroke="#555" stroke-width="0.85"/>
<line x1="229.2" y1="209" x2="229.2" y2="210.8" stroke="#555" stroke-width="0.85"/>
<line x1="235.4" y1="208.4" x2="235.4" y2="211.4" stroke="#222" stroke-width="1"/>
<line x1="241.6" y1="209" x2="241.6" y2="210.8" stroke="#555" stroke-width="0.85"/>
<line x1="247.8" y1="209" x2="247.8" y2="210.8" stroke="#555" stroke-width="0.85"/>
<line x1="254" y1="209" x2="254" y2="210.8" stroke="#555" stroke-width="0.85"/>
<line x1="260.2" y1="209" x2="260.2" y2="210.8" stroke="#555" stroke-width="0.85"/>
<line x1="266.4" y1="208.4" x2="266.4" y2="211.4" stroke="#222" stroke-width="1"/>
<line x1="272.6" y1="209" x2="272.6" y2="210.8" stroke="#555" stroke-width="0.85"/>
<line x1="278.8" y1="209" x2="278.8" y2="210.8" stroke="#555" stroke-width="0.85"/>
<line x1="285" y1="209" x2="285" y2="210.8" stroke="#555" stroke-width="0.85"/>
<line x1="291.2" y1="209" x2="291.2" y2="210.8" stroke="#555" stroke-width="0.85"/>
<line x1="297.4" y1="208.4" x2="297.4" y2="211.4" stroke="#222" stroke-width="1"/>
<line x1="303.6" y1="209" x2="303.6" y2="210.8" stroke="#555" stroke-width="0.85"/>
<line x1="309.8" y1="209" x2="309.8" y2="210.8" stroke="#555" stroke-width="0.85"/>
<line x1="316" y1="209" x2="316" y2="210.8" stroke="#555" stroke-width="0.85"/>
<line x1="322.2" y1="209" x2="322.2" y2="210.8" stroke="#555" stroke-width="0.85"/>
<line x1="328.4" y1="208.4" x2="328.4" y2="211.4" stroke="#222" stroke-width="1"/>
<line x1="334.6" y1="209" x2="334.6" y2="210.8" stroke="#555" stroke-width="0.85"/>
<line x1="340.8" y1="209" x2="340.8" y2="210.8" stroke="#555" stroke-width="0.85"/>
<line x1="18.4" y1="235.6" x2="18.4" y2="238.2" stroke="#222" stroke-width="1"/>
<line x1="30.8" y1="236.2" x2="30.8" y2="237.8" stroke="#555" stroke-width="0.85"/>
<line x1="43.2" y1="236.2" x2="43.2" y2="237.8" stroke="#555" stroke-width="0.85"/>
<line x1="55.6" y1="236.2" x2="55.6" y2="237.8" stroke="#555" stroke-width="0.85"/>
<line x1="68" y1="236.2" x2="68" y2="237.8" stroke="#555" stroke-width="0.85"/>
<line x1="80.4" y1="235.6" x2="80.4" y2="238.2" stroke="#222" stroke-width="1"/>
<line x1="92.8" y1="236.2" x2="92.8" y2="237.8" stroke="#555" stroke-width="0.85"/>
<line x1="105.2" y1="236.2" x2="105.2" y2="237.8" stroke="#555" stroke-width="0.85"/>
<line x1="117.6" y1="236.2" x2="117.6" y2="237.8" stroke="#555" stroke-width="0.85"/>
<line x1="130" y1="236.2" x2="130" y2="237.8" stroke="#555" stroke-width="0.85"/>
<line x1="142.4" y1="235.6" x2="142.4" y2="238.2" stroke="#222" stroke-width="1"/>
<line x1="154.8" y1="236.2" x2="154.8" y2="237.8" stroke="#555" stroke-width="0.85"/>
<line x1="167.2" y1="236.2" x2="167.2" y2="237.8" stroke="#555" stroke-width="0.85"/>
<line x1="179.6" y1="236.2" x2="179.6" y2="237.8" stroke="#555" stroke-width="0.85"/>
<line x1="192" y1="236.2" x2="192" y2="237.8" stroke="#555" stroke-width="0.85"/>
<line x1="204.4" y1="235.6" x2="204.4" y2="238.2" stroke="#222" stroke-width="1"/>
<line x1="216.8" y1="236.2" x2="216.8" y2="237.8" stroke="#555" stroke-width="0.85"/>
<line x1="229.2" y1="236.2" x2="229.2" y2="237.8" stroke="#555" stroke-width="0.85"/>
<line x1="241.6" y1="236.2" x2="241.6" y2="237.8" stroke="#555" stroke-width="0.85"/>
<line x1="254" y1="236.2" x2="254" y2="237.8" stroke="#555" stroke-width="0.85"/>
<line x1="266.4" y1="235.6" x2="266.4" y2="238.2" stroke="#222" stroke-width="1"/>
<line x1="278.8" y1="236.2" x2="278.8" y2="237.8" stroke="#555" stroke-width="0.85"/>
<line x1="291.2" y1="236.2" x2="291.2" y2="237.8" stroke="#555" stroke-width="0.85"/>
<line x1="303.6" y1="236.2" x2="303.6" y2="237.8" stroke="#555" stroke-width="0.85"/>
<line x1="316" y1="236.2" x2="316" y2="237.8" stroke="#555" stroke-width="0.85"/>
<line x1="328.4" y1="235.6" x2="328.4" y2="238.2" stroke="#222" stroke-width="1"/>
<line x1="340.8" y1="236.2" x2="340.8" y2="237.8" stroke="#555" stroke-width="0.85"/>
<text x="82.1" y="244.1" font-size="5.4" fill="#222" text-anchor="middle">10 kbp</text>
<text x="144.5" y="244.1" font-size="5.4" fill="#222" text-anchor="middle">20 kbp</text>
<text x="206.9" y="244.1" font-size="5.4" fill="#222" text-anchor="middle">30 kbp</text>
<text x="269.3" y="244.1" font-size="5.4" fill="#222" text-anchor="middle">40 kbp</text>
<text x="331.7" y="244.1" font-size="5.4" fill="#222" text-anchor="middle">50 kbp</text>
<polygon points="18.5,212.4 20.38,212.4 23.2,217.65 20.38,222.9 18.5,222.9" fill="#0d24bc"/>
<polygon points="23.2,212.4 24.47,212.4 25.63,217.65 24.47,222.9 23.2,222.9" fill="#0d24bc"/>
<polygon points="25.63,212.4 26.9,212.4 28.07,217.65 26.9,222.9 25.63,222.9" fill="#0d24bc"/>
<polygon points="28.07,212.4 29.33,212.4 30.5,217.65 29.33,222.9 28.07,222.9" fill="#0d24bc"/>
<polygon points="30.5,212.4 31.77,212.4 32.93,217.65 31.77,222.9 30.5,222.9" fill="#0d24bc"/>
<polygon points="32.93,212.4 34.2,212.4 35.37,217.65 34.2,222.9 32.93,222.9" fill="#0d24bc"/>
<polygon points="35.37,212.4 36.63,212.4 37.8,217.65 36.63,222.9 35.37,222.9" fill="#0d24bc"/>
<polygon points="37.8,212.4 55,212.4 58.2,217.65 55,222.9 37.8,222.9" fill="#0d24bc"/>
<polygon points="58.2,212.4 74.8,212.4 78,217.65 74.8,222.9 58.2,222.9" fill="#0d24bc"/>
<polygon points="78,212.4 79.33,212.4 80.57,217.65 79.33,222.9 78,222.9" fill="#0d24bc"/>
<polygon points="80.57,212.4 81.9,212.4 83.13,217.65 81.9,222.9 80.57,222.9" fill="#0d24bc"/>
<polygon points="83.13,212.4 84.47,212.4 85.7,217.65 84.47,222.9 83.13,222.9" fill="#0d24bc"/>
<polygon points="85.7,212.4 93.2,212.4 96.4,217.65 93.2,222.9 85.7,222.9" fill="#0d24bc"/>
<polygon points="96.4,212.4 97.61,212.4 98.73,217.65 97.61,222.9 96.4,222.9" fill="#0d24bc"/>
<polygon points="98.73,212.4 99.95,212.4 101.07,217.65 99.95,222.9 98.73,222.9" fill="#0d24bc"/>
<polygon points="101.07,212.4 102.28,212.4 103.4,217.65 102.28,222.9 101.07,222.9" fill="#0d24bc"/>
<polygon points="118,212.4 119.2,212.4 121,217.65 119.2,222.9 118,222.9" fill="#0d24bc"/>
<polygon points="135,212.4 150.4,212.4 153.6,217.65 150.4,222.9 135,222.9" fill="#0d24bc"/>
<polygon points="154.8,212.4 156.44,212.4 158.9,217.65 156.44,222.9 154.8,222.9" fill="#129a1c"/>
<polygon points="158.9,212.4 159.94,212.4 161.5,217.65 159.94,222.9 158.9,222.9" fill="#0d24bc"/>
<polygon points="180.3,212.4 181.46,212.4 183.2,217.65 181.46,222.9 180.3,222.9" fill="#0d24bc"/>
<polygon points="185.1,212.4 186.42,212.4 188.4,217.65 186.42,222.9 185.1,222.9" fill="#129a1c"/>
<polygon points="196,212.4 200.9,212.4 204.1,217.65 200.9,222.9 196,222.9" fill="#c80034"/>
<polygon points="231.9,212.4 234.5,212.4 237.7,217.65 234.5,222.9 231.9,222.9" fill="#c80034"/>
<polygon points="241.9,212.4 243.14,212.4 245,217.65 243.14,222.9 241.9,222.9" fill="#c80034"/>
<polygon points="276.6,212.4 277.74,212.4 278.8,217.65 277.74,222.9 276.6,222.9" fill="#0d24bc"/>
<polygon points="278.8,212.4 279.94,212.4 281,217.65 279.94,222.9 278.8,222.9" fill="#0d24bc"/>
<polygon points="281,212.4 282.14,212.4 283.2,217.65 282.14,222.9 281,222.9" fill="#0d24bc"/>
<polygon points="284.9,212.4 286.02,212.4 287.06,217.65 286.02,222.9 284.9,222.9" fill="#0d24bc"/>
<polygon points="287.06,212.4 288.18,212.4 289.21,217.65 288.18,222.9 287.06,222.9" fill="#0d24bc"/>
<polygon points="289.21,212.4 290.34,212.4 291.37,217.65 290.34,222.9 289.21,222.9" fill="#0d24bc"/>
<polygon points="291.37,212.4 292.49,212.4 293.53,217.65 292.49,222.9 291.37,222.9" fill="#0d24bc"/>
<polygon points="293.53,212.4 294.65,212.4 295.69,217.65 294.65,222.9 293.53,222.9" fill="#0d24bc"/>
<polygon points="295.69,212.4 296.81,212.4 297.84,217.65 296.81,222.9 295.69,222.9" fill="#0d24bc"/>
<polygon points="297.84,212.4 298.96,212.4 300,217.65 298.96,222.9 297.84,222.9" fill="#0d24bc"/>
<polygon points="300,212.4 301.3,212.4 302.5,217.65 301.3,222.9 300,222.9" fill="#0d24bc"/>
<polygon points="302.5,212.4 303.8,212.4 305,217.65 303.8,222.9 302.5,222.9" fill="#0d24bc"/>
<polygon points="305,212.4 306.3,212.4 307.5,217.65 306.3,222.9 305,222.9" fill="#0d24bc"/>
<polygon points="307.5,212.4 308.8,212.4 310,217.65 308.8,222.9 307.5,222.9" fill="#0d24bc"/>
<polygon points="310,212.4 311.3,212.4 312.5,217.65 311.3,222.9 310,222.9" fill="#0d24bc"/>
<polygon points="312.5,212.4 313.8,212.4 315,217.65 313.8,222.9 312.5,222.9" fill="#0d24bc"/>
<polygon points="315,212.4 316.22,212.4 317.35,217.65 316.22,222.9 315,222.9" fill="#0d24bc"/>
<polygon points="317.35,212.4 318.57,212.4 319.7,217.65 318.57,222.9 317.35,222.9" fill="#0d24bc"/>
<polygon points="319.7,212.4 320.92,212.4 322.05,217.65 320.92,222.9 319.7,222.9" fill="#0d24bc"/>
<polygon points="322.05,212.4 323.27,212.4 324.4,217.65 323.27,222.9 322.05,222.9" fill="#0d24bc"/>
<polygon points="324.4,212.4 325.62,212.4 326.75,217.65 325.62,222.9 324.4,222.9" fill="#0d24bc"/>
<polygon points="326.75,212.4 327.97,212.4 329.1,217.65 327.97,222.9 326.75,222.9" fill="#0d24bc"/>
<polygon points="329.1,212.4 330.32,212.4 331.45,217.65 330.32,222.9 329.1,222.9" fill="#0d24bc"/>
<polygon points="331.45,212.4 332.67,212.4 333.8,217.65 332.67,222.9 331.45,222.9" fill="#0d24bc"/>
<polygon points="333.8,212.4 335.68,212.4 338.5,217.65 335.68,222.9 333.8,222.9" fill="#c80034"/>
<polygon points="338.5,212.4 340.58,212.4 343.7,217.65 340.58,222.9 338.5,222.9" fill="#c80034"/>
<polygon points="108.13,224.5 106.61,224.5 105.2,229.45 106.61,234.4 108.13,234.4" fill="#0d24bc"/>
<polygon points="111.07,224.5 109.54,224.5 108.13,229.45 109.54,234.4 111.07,234.4" fill="#0d24bc"/>
<polygon points="114,224.5 112.47,224.5 111.07,229.45 112.47,234.4 114,234.4" fill="#0d24bc"/>
<polygon points="118,224.5 116.4,224.5 114,229.45 116.4,234.4 118,234.4" fill="#129a1c"/>
<polygon points="125.4,224.5 123.64,224.5 121,229.45 123.64,234.4 125.4,234.4" fill="#0d24bc"/>
<polygon points="129.7,224.5 127.98,224.5 125.4,229.45 127.98,234.4 129.7,234.4" fill="#0d24bc"/>
<polygon points="168,224.5 166,224.5 163,229.45 166,234.4 168,234.4" fill="#0d24bc"/>
<polygon points="173,224.5 171,224.5 168,229.45 171,234.4 173,234.4" fill="#0d24bc"/>
<polygon points="179.6,224.5 177,224.5 173.8,229.45 177,234.4 179.6,234.4" fill="#c80034"/>
<polygon points="213.9,224.5 210.5,224.5 207.3,229.45 210.5,234.4 213.9,234.4" fill="#0d24bc"/>
<polygon points="220.5,224.5 217.1,224.5 213.9,229.45 217.1,234.4 220.5,234.4" fill="#0d24bc"/>
<polygon points="231.4,224.5 223.7,224.5 220.5,229.45 223.7,234.4 231.4,234.4" fill="#0d24bc"/>
<polygon points="241.9,224.5 240.18,224.5 237.6,229.45 240.18,234.4 241.9,234.4" fill="#c80034"/>
<polygon points="248.9,224.5 246.86,224.5 243.8,229.45 246.86,234.4 248.9,234.4" fill="#0d24bc"/>
<polygon points="266.6,224.5 251.4,224.5 248.2,229.45 251.4,234.4 266.6,234.4" fill="#e4ad02"/>
<polygon points="277.4,224.5 269.8,224.5 266.6,229.45 269.8,234.4 277.4,234.4" fill="#e4ad02"/>
<text x="31" y="164.9" font-size="4.9" fill="#2a3cc8">rplL</text>
<line x1="37.5" y1="165.8" x2="37.5" y2="207.5" stroke="#5060d0" stroke-width="0.75"/>
<text x="21.7" y="170.2" font-size="4.9" fill="#2a3cc8">rplK</text>
<line x1="27.5" y1="171.1" x2="27.5" y2="207.5" stroke="#5060d0" stroke-width="0.75"/>
<text x="27.5" y="180.7" font-size="4.9" fill="#2a3cc8">rplJ</text>
<line x1="33.4" y1="181.6" x2="33.4" y2="207.5" stroke="#5060d0" stroke-width="0.75"/>
<text x="25.2" y="190.6" font-size="4.9" fill="#2a3cc8">rplA</text>
<line x1="30.8" y1="191.5" x2="30.8" y2="207.5" stroke="#5060d0" stroke-width="0.75"/>
<text x="16.4" y="196.5" font-size="4.9" fill="#2a3cc8">tufA</text>
<line x1="22.3" y1="197.4" x2="22.3" y2="207.5" stroke="#5060d0" stroke-width="0.75"/>
<text x="42.1" y="196.5" font-size="4.9" fill="#2a3cc8">rpoB</text>
<line x1="47.4" y1="197.4" x2="47.4" y2="207.5" stroke="#5060d0" stroke-width="0.75"/>
<text x="64.3" y="196.5" font-size="4.9" fill="#2a3cc8">rpoC</text>
<line x1="69.3" y1="197.4" x2="69.3" y2="207.5" stroke="#5060d0" stroke-width="0.75"/>
<text x="76" y="180.7" font-size="4.9" fill="#2a3cc8">rpsL</text>
<line x1="81.2" y1="181.6" x2="81.2" y2="207.5" stroke="#5060d0" stroke-width="0.75"/>
<text x="78.9" y="190.6" font-size="4.9" fill="#2a3cc8">rpsG</text>
<line x1="84.2" y1="191.5" x2="84.2" y2="207.5" stroke="#5060d0" stroke-width="0.75"/>
<text x="86.2" y="196.5" font-size="4.9" fill="#2a3cc8">fusA</text>
<line x1="92.6" y1="197.4" x2="92.6" y2="207.5" stroke="#5060d0" stroke-width="0.75"/>
<text x="104.9" y="164.9" font-size="4.9" fill="#2a3cc8">rpsI</text>
<line x1="110.5" y1="165.8" x2="110.5" y2="207.5" stroke="#5060d0" stroke-width="0.75"/>
<text x="113.6" y="170.2" font-size="4.9" fill="#2a3cc8">rplY</text>
<line x1="119.5" y1="171.1" x2="119.5" y2="207.5" stroke="#5060d0" stroke-width="0.75"/>
<text x="116.5" y="180.7" font-size="4.9" fill="#2a3cc8">rsmD</text>
<line x1="123" y1="181.6" x2="123" y2="207.5" stroke="#5060d0" stroke-width="0.75"/>
<text x="97.3" y="190.6" font-size="4.9" fill="#2a3cc8">def</text>
<line x1="101.6" y1="191.5" x2="101.6" y2="207.5" stroke="#5060d0" stroke-width="0.75"/>
<text x="109.8" y="190.6" font-size="4.9" fill="#20a030">rplA</text>
<line x1="115.6" y1="191.5" x2="115.6" y2="207.5" stroke="#40b050" stroke-width="0.75"/>
<text x="102" y="196.5" font-size="4.9" fill="#2a3cc8">rsmA</text>
<line x1="107.2" y1="197.4" x2="107.2" y2="207.5" stroke="#5060d0" stroke-width="0.75"/>
<text x="121.8" y="196.5" font-size="4.9" fill="#2a3cc8">prfA</text>
<line x1="127.3" y1="197.4" x2="127.3" y2="207.5" stroke="#5060d0" stroke-width="0.75"/>
<text x="138.1" y="196.5" font-size="4.9" fill="#2a3cc8">dnaE</text>
<line x1="144.3" y1="197.4" x2="144.3" y2="207.5" stroke="#5060d0" stroke-width="0.75"/>
<text x="151" y="196.5" font-size="4.9" fill="#20a030">metF</text>
<line x1="156.8" y1="197.4" x2="156.8" y2="207.5" stroke="#40b050" stroke-width="0.75"/>
<text x="162" y="170.2" font-size="4.9" fill="#2a3cc8">rplT</text>
<line x1="167.8" y1="171.1" x2="167.8" y2="207.5" stroke="#5060d0" stroke-width="0.75"/>
<text x="166.1" y="180.7" font-size="4.9" fill="#2a3cc8">infC</text>
<line x1="171.4" y1="181.6" x2="171.4" y2="207.5" stroke="#5060d0" stroke-width="0.75"/>
<text x="158.5" y="190.6" font-size="4.9" fill="#2a3cc8">dnaQ</text>
<line x1="164.3" y1="191.5" x2="164.3" y2="207.5" stroke="#5060d0" stroke-width="0.75"/>
<text x="170.2" y="196.5" font-size="4.9" fill="#d8204f">aroC</text>
<line x1="176.4" y1="197.4" x2="176.4" y2="207.5" stroke="#d83060" stroke-width="0.75"/>
<text x="176" y="190.6" font-size="4.9" fill="#2a3cc8">smpB</text>
<line x1="181.6" y1="191.5" x2="181.6" y2="207.5" stroke="#5060d0" stroke-width="0.75"/>
<text x="183" y="198.8" font-size="4.9" fill="#20a030">tmcA</text>
<line x1="186.3" y1="199.7" x2="186.3" y2="207.5" stroke="#40b050" stroke-width="0.75"/>
<text x="194.1" y="196.5" font-size="4.9" fill="#d8204f">aroA</text>
<line x1="200" y1="197.4" x2="200" y2="207.5" stroke="#d83060" stroke-width="0.75"/>
<text x="204" y="190.6" font-size="4.9" fill="#2a3cc8">dnaN</text>
<line x1="209.9" y1="191.5" x2="209.9" y2="207.5" stroke="#5060d0" stroke-width="0.75"/>
<text x="211" y="180.7" font-size="4.9" fill="#2a3cc8">dnaJ</text>
<line x1="216.5" y1="181.6" x2="216.5" y2="207.5" stroke="#5060d0" stroke-width="0.75"/>
<text x="219.8" y="196.5" font-size="4.9" fill="#2a3cc8">dnaK</text>
<line x1="225.7" y1="197.4" x2="225.7" y2="207.5" stroke="#5060d0" stroke-width="0.75"/>
<text x="229.1" y="190.6" font-size="4.9" fill="#d8204f">aroF</text>
<line x1="234.6" y1="191.5" x2="234.6" y2="207.5" stroke="#d83060" stroke-width="0.75"/>
<text x="237.8" y="180.7" font-size="4.9" fill="#d8204f">aroQ</text>
<line x1="243.3" y1="181.6" x2="243.3" y2="207.5" stroke="#d83060" stroke-width="0.75"/>
<text x="234.3" y="196.5" font-size="4.9" fill="#d8204f">aroE</text>
<line x1="239.6" y1="197.4" x2="239.6" y2="207.5" stroke="#d83060" stroke-width="0.75"/>
<text x="242" y="190.6" font-size="4.9" fill="#2a3cc8">rplU</text>
<line x1="247.4" y1="191.5" x2="247.4" y2="207.5" stroke="#5060d0" stroke-width="0.75"/>
<text x="252" y="196.5" font-size="4.9" fill="#e0a810">rRNA</text>
<line x1="258" y1="197.4" x2="258" y2="207.5" stroke="#e8b840" stroke-width="0.75"/>
<text x="266.5" y="196.5" font-size="4.9" fill="#e0a810">rRNA</text>
<line x1="272.3" y1="197.4" x2="272.3" y2="207.5" stroke="#e8b840" stroke-width="0.75"/>
<text x="327.1" y="186.8" font-size="4.9" fill="#2a3cc8">rpoA</text>
<line x1="330.5" y1="187.7" x2="330.5" y2="207.5" stroke="#5060d0" stroke-width="0.75"/>
<text x="330.5" y="170" font-size="4.9" fill="#d8204f">aroK</text>
<line x1="335.8" y1="170.9" x2="335.8" y2="207.5" stroke="#d83060" stroke-width="0.75"/>
<text x="334.6" y="196.1" font-size="4.9" fill="#d8204f">aroB</text>
<line x1="339.6" y1="197" x2="339.6" y2="207.5" stroke="#d83060" stroke-width="0.75"/>
<line x1="36.3" y1="181.5" x2="36.3" y2="207.5" stroke="#5060d0" stroke-width="0.75"/>
<line x1="166.5" y1="191.5" x2="166.5" y2="207.5" stroke="#5060d0" stroke-width="0.75"/>
<text x="283.2" y="192.3" font-size="5.2" fill="#2a3cc8">ribosomal subunit</text>
<text x="294" y="199" font-size="5.2" fill="#2a3cc8">proteins</text>
<path d="M276.2 206.6 V203.4 H329.1 V206.6" fill="none" stroke="#3040c8" stroke-width="0.8"/>
<circle cx="356" cy="204" r="0.5" fill="#888"/>
<line x1="16.1" y1="332.1" x2="535.3" y2="332.1" stroke="#8a8a8a" stroke-width="1"/>
<line x1="16.1" y1="343.5" x2="535.3" y2="343.5" stroke="#9a9a9a" stroke-width="1.4"/>
<line x1="16.1" y1="355.5" x2="535.3" y2="355.5" stroke="#8a8a8a" stroke-width="1"/>
<line x1="16.1" y1="328.5" x2="16.1" y2="331.5" stroke="#222" stroke-width="1"/>
<line x1="28.37" y1="329.1" x2="28.37" y2="330.9" stroke="#555" stroke-width="0.85"/>
<line x1="40.64" y1="329.1" x2="40.64" y2="330.9" stroke="#555" stroke-width="0.85"/>
<line x1="52.9" y1="329.1" x2="52.9" y2="330.9" stroke="#555" stroke-width="0.85"/>
<line x1="65.17" y1="329.1" x2="65.17" y2="330.9" stroke="#555" stroke-width="0.85"/>
<line x1="77.44" y1="328.5" x2="77.44" y2="331.5" stroke="#222" stroke-width="1"/>
<line x1="89.71" y1="329.1" x2="89.71" y2="330.9" stroke="#555" stroke-width="0.85"/>
<line x1="101.98" y1="329.1" x2="101.98" y2="330.9" stroke="#555" stroke-width="0.85"/>
<line x1="114.24" y1="329.1" x2="114.24" y2="330.9" stroke="#555" stroke-width="0.85"/>
<line x1="126.51" y1="329.1" x2="126.51" y2="330.9" stroke="#555" stroke-width="0.85"/>
<line x1="138.78" y1="328.5" x2="138.78" y2="331.5" stroke="#222" stroke-width="1"/>
<line x1="151.05" y1="329.1" x2="151.05" y2="330.9" stroke="#555" stroke-width="0.85"/>
<line x1="163.32" y1="329.1" x2="163.32" y2="330.9" stroke="#555" stroke-width="0.85"/>
<line x1="175.58" y1="329.1" x2="175.58" y2="330.9" stroke="#555" stroke-width="0.85"/>
<line x1="187.85" y1="329.1" x2="187.85" y2="330.9" stroke="#555" stroke-width="0.85"/>
<line x1="200.12" y1="328.5" x2="200.12" y2="331.5" stroke="#222" stroke-width="1"/>
<line x1="212.39" y1="329.1" x2="212.39" y2="330.9" stroke="#555" stroke-width="0.85"/>
<line x1="224.66" y1="329.1" x2="224.66" y2="330.9" stroke="#555" stroke-width="0.85"/>
<line x1="236.92" y1="329.1" x2="236.92" y2="330.9" stroke="#555" stroke-width="0.85"/>
<line x1="249.19" y1="329.1" x2="249.19" y2="330.9" stroke="#555" stroke-width="0.85"/>
<line x1="261.46" y1="328.5" x2="261.46" y2="331.5" stroke="#222" stroke-width="1"/>
<line x1="273.73" y1="329.1" x2="273.73" y2="330.9" stroke="#555" stroke-width="0.85"/>
<line x1="286" y1="329.1" x2="286" y2="330.9" stroke="#555" stroke-width="0.85"/>
<line x1="298.26" y1="329.1" x2="298.26" y2="330.9" stroke="#555" stroke-width="0.85"/>
<line x1="310.53" y1="329.1" x2="310.53" y2="330.9" stroke="#555" stroke-width="0.85"/>
<line x1="322.8" y1="328.5" x2="322.8" y2="331.5" stroke="#222" stroke-width="1"/>
<line x1="335.07" y1="329.1" x2="335.07" y2="330.9" stroke="#555" stroke-width="0.85"/>
<line x1="347.34" y1="329.1" x2="347.34" y2="330.9" stroke="#555" stroke-width="0.85"/>
<line x1="359.6" y1="329.1" x2="359.6" y2="330.9" stroke="#555" stroke-width="0.85"/>
<line x1="371.87" y1="329.1" x2="371.87" y2="330.9" stroke="#555" stroke-width="0.85"/>
<line x1="384.14" y1="328.5" x2="384.14" y2="331.5" stroke="#222" stroke-width="1"/>
<line x1="396.41" y1="329.1" x2="396.41" y2="330.9" stroke="#555" stroke-width="0.85"/>
<line x1="408.68" y1="329.1" x2="408.68" y2="330.9" stroke="#555" stroke-width="0.85"/>
<line x1="420.94" y1="329.1" x2="420.94" y2="330.9" stroke="#555" stroke-width="0.85"/>
<line x1="433.21" y1="329.1" x2="433.21" y2="330.9" stroke="#555" stroke-width="0.85"/>
<line x1="445.48" y1="328.5" x2="445.48" y2="331.5" stroke="#222" stroke-width="1"/>
<line x1="457.75" y1="329.1" x2="457.75" y2="330.9" stroke="#555" stroke-width="0.85"/>
<line x1="470.02" y1="329.1" x2="470.02" y2="330.9" stroke="#555" stroke-width="0.85"/>
<line x1="482.28" y1="329.1" x2="482.28" y2="330.9" stroke="#555" stroke-width="0.85"/>
<line x1="494.55" y1="329.1" x2="494.55" y2="330.9" stroke="#555" stroke-width="0.85"/>
<line x1="506.82" y1="328.5" x2="506.82" y2="331.5" stroke="#222" stroke-width="1"/>
<line x1="519.09" y1="329.1" x2="519.09" y2="330.9" stroke="#555" stroke-width="0.85"/>
<line x1="531.36" y1="329.1" x2="531.36" y2="330.9" stroke="#555" stroke-width="0.85"/>
<line x1="16.1" y1="356.1" x2="16.1" y2="358.7" stroke="#222" stroke-width="1"/>
<line x1="28.37" y1="356.7" x2="28.37" y2="358.3" stroke="#555" stroke-width="0.85"/>
<line x1="40.64" y1="356.7" x2="40.64" y2="358.3" stroke="#555" stroke-width="0.85"/>
<line x1="52.9" y1="356.7" x2="52.9" y2="358.3" stroke="#555" stroke-width="0.85"/>
<line x1="65.17" y1="356.7" x2="65.17" y2="358.3" stroke="#555" stroke-width="0.85"/>
<line x1="77.44" y1="356.1" x2="77.44" y2="358.7" stroke="#222" stroke-width="1"/>
<line x1="89.71" y1="356.7" x2="89.71" y2="358.3" stroke="#555" stroke-width="0.85"/>
<line x1="101.98" y1="356.7" x2="101.98" y2="358.3" stroke="#555" stroke-width="0.85"/>
<line x1="114.24" y1="356.7" x2="114.24" y2="358.3" stroke="#555" stroke-width="0.85"/>
<line x1="126.51" y1="356.7" x2="126.51" y2="358.3" stroke="#555" stroke-width="0.85"/>
<line x1="138.78" y1="356.1" x2="138.78" y2="358.7" stroke="#222" stroke-width="1"/>
<line x1="151.05" y1="356.7" x2="151.05" y2="358.3" stroke="#555" stroke-width="0.85"/>
<line x1="163.32" y1="356.7" x2="163.32" y2="358.3" stroke="#555" stroke-width="0.85"/>
<line x1="175.58" y1="356.7" x2="175.58" y2="358.3" stroke="#555" stroke-width="0.85"/>
<line x1="187.85" y1="356.7" x2="187.85" y2="358.3" stroke="#555" stroke-width="0.85"/>
<line x1="200.12" y1="356.1" x2="200.12" y2="358.7" stroke="#222" stroke-width="1"/>
<line x1="212.39" y1="356.7" x2="212.39" y2="358.3" stroke="#555" stroke-width="0.85"/>
<line x1="224.66" y1="356.7" x2="224.66" y2="358.3" stroke="#555" stroke-width="0.85"/>
<line x1="236.92" y1="356.7" x2="236.92" y2="358.3" stroke="#555" stroke-width="0.85"/>
<line x1="249.19" y1="356.7" x2="249.19" y2="358.3" stroke="#555" stroke-width="0.85"/>
<line x1="261.46" y1="356.1" x2="261.46" y2="358.7" stroke="#222" stroke-width="1"/>
<line x1="273.73" y1="356.7" x2="273.73" y2="358.3" stroke="#555" stroke-width="0.85"/>
<line x1="286" y1="356.7" x2="286" y2="358.3" stroke="#555" stroke-width="0.85"/>
<line x1="298.26" y1="356.7" x2="298.26" y2="358.3" stroke="#555" stroke-width="0.85"/>
<line x1="310.53" y1="356.7" x2="310.53" y2="358.3" stroke="#555" stroke-width="0.85"/>
<line x1="322.8" y1="356.1" x2="322.8" y2="358.7" stroke="#222" stroke-width="1"/>
<line x1="335.07" y1="356.7" x2="335.07" y2="358.3" stroke="#555" stroke-width="0.85"/>
<line x1="347.34" y1="356.7" x2="347.34" y2="358.3" stroke="#555" stroke-width="0.85"/>
<line x1="359.6" y1="356.7" x2="359.6" y2="358.3" stroke="#555" stroke-width="0.85"/>
<line x1="371.87" y1="356.7" x2="371.87" y2="358.3" stroke="#555" stroke-width="0.85"/>
<line x1="384.14" y1="356.1" x2="384.14" y2="358.7" stroke="#222" stroke-width="1"/>
<line x1="396.41" y1="356.7" x2="396.41" y2="358.3" stroke="#555" stroke-width="0.85"/>
<line x1="408.68" y1="356.7" x2="408.68" y2="358.3" stroke="#555" stroke-width="0.85"/>
<line x1="420.94" y1="356.7" x2="420.94" y2="358.3" stroke="#555" stroke-width="0.85"/>
<line x1="433.21" y1="356.7" x2="433.21" y2="358.3" stroke="#555" stroke-width="0.85"/>
<line x1="445.48" y1="356.1" x2="445.48" y2="358.7" stroke="#222" stroke-width="1"/>
<line x1="457.75" y1="356.7" x2="457.75" y2="358.3" stroke="#555" stroke-width="0.85"/>
<line x1="470.02" y1="356.7" x2="470.02" y2="358.3" stroke="#555" stroke-width="0.85"/>
<line x1="482.28" y1="356.7" x2="482.28" y2="358.3" stroke="#555" stroke-width="0.85"/>
<line x1="494.55" y1="356.7" x2="494.55" y2="358.3" stroke="#555" stroke-width="0.85"/>
<line x1="506.82" y1="356.1" x2="506.82" y2="358.7" stroke="#222" stroke-width="1"/>
<line x1="519.09" y1="356.7" x2="519.09" y2="358.3" stroke="#555" stroke-width="0.85"/>
<line x1="531.36" y1="356.7" x2="531.36" y2="358.3" stroke="#555" stroke-width="0.85"/>
<text x="78.9" y="363.2" font-size="5.4" fill="#222" text-anchor="middle">10 kbp</text>
<text x="140.8" y="363.2" font-size="5.4" fill="#222" text-anchor="middle">20 kbp</text>
<text x="202.7" y="363.2" font-size="5.4" fill="#222" text-anchor="middle">30 kbp</text>
<text x="264.6" y="363.2" font-size="5.4" fill="#222" text-anchor="middle">40 kbp</text>
<text x="326.5" y="363.2" font-size="5.4" fill="#222" text-anchor="middle">50 kbp</text>
<text x="388.4" y="363.2" font-size="5.4" fill="#222" text-anchor="middle">60 kbp</text>
<text x="450.3" y="363.2" font-size="5.4" fill="#222" text-anchor="middle">70 kbp</text>
<text x="512.2" y="363.2" font-size="5.4" fill="#222" text-anchor="middle">80 kbp</text>
<polygon points="16.1,332.5 17.18,332.5 18.8,337.7 17.18,342.9 16.1,342.9" fill="#0d24bc"/>
<polygon points="18.8,332.5 20.07,332.5 21.24,337.7 20.07,342.9 18.8,342.9" fill="#0d24bc"/>
<polygon points="21.24,332.5 22.51,332.5 23.68,337.7 22.51,342.9 21.24,342.9" fill="#0d24bc"/>
<polygon points="23.68,332.5 24.95,332.5 26.12,337.7 24.95,342.9 23.68,342.9" fill="#0d24bc"/>
<polygon points="26.12,332.5 27.39,332.5 28.56,337.7 27.39,342.9 26.12,342.9" fill="#0d24bc"/>
<polygon points="28.56,332.5 29.83,332.5 31,337.7 29.83,342.9 28.56,342.9" fill="#0d24bc"/>
<polygon points="31,332.5 49,332.5 53.8,337.7 49,342.9 31,342.9" fill="#0d24bc"/>
<polygon points="54.1,332.5 68.7,332.5 71.9,337.7 68.7,342.9 54.1,342.9" fill="#0d24bc"/>
<polygon points="71.9,332.5 73.11,332.5 74.23,337.7 73.11,342.9 71.9,342.9" fill="#0d24bc"/>
<polygon points="74.23,332.5 75.43,332.5 76.55,337.7 75.43,342.9 74.23,342.9" fill="#0d24bc"/>
<polygon points="76.55,332.5 77.76,332.5 78.88,337.7 77.76,342.9 76.55,342.9" fill="#0d24bc"/>
<polygon points="78.88,332.5 80.08,332.5 81.2,337.7 80.08,342.9 78.88,342.9" fill="#0d24bc"/>
<polygon points="81.2,332.5 87.6,332.5 90.8,337.7 87.6,342.9 81.2,342.9" fill="#0d24bc"/>
<polygon points="90.8,332.5 92.43,332.5 93.93,337.7 92.43,342.9 90.8,342.9" fill="#0d24bc"/>
<polygon points="93.93,332.5 95.56,332.5 97.07,337.7 95.56,342.9 93.93,342.9" fill="#0d24bc"/>
<polygon points="97.07,332.5 98.7,332.5 100.2,337.7 98.7,342.9 97.07,342.9" fill="#0d24bc"/>
<polygon points="122.4,332.5 124.24,332.5 127,337.7 124.24,342.9 122.4,342.9" fill="#0d24bc"/>
<polygon points="130.9,332.5 133.2,332.5 136.4,337.7 133.2,342.9 130.9,342.9" fill="#129a1c"/>
<polygon points="153.3,332.5 155.42,332.5 158.6,337.7 155.42,342.9 153.3,342.9" fill="#0d24bc"/>
<polygon points="159.2,332.5 162.6,332.5 165.8,337.7 162.6,342.9 159.2,342.9" fill="#ff0000"/>
<polygon points="182.2,332.5 184.08,332.5 186.9,337.7 184.08,342.9 182.2,342.9" fill="#0d24bc"/>
<polygon points="213.7,332.5 217.8,332.5 221,337.7 217.8,342.9 213.7,342.9" fill="#0d24bc"/>
<polygon points="221,332.5 225.1,332.5 228.3,337.7 225.1,342.9 221,342.9" fill="#0d24bc"/>
<polygon points="230,332.5 244.1,332.5 247.3,337.7 244.1,342.9 230,342.9" fill="#0d24bc"/>
<polygon points="249,332.5 251.7,332.5 254.9,337.7 251.7,342.9 249,342.9" fill="#ff0000"/>
<polygon points="254.9,332.5 256.74,332.5 259.5,337.7 256.74,342.9 254.9,342.9" fill="#c80034"/>
<polygon points="258.4,332.5 259.92,332.5 262.2,337.7 259.92,342.9 258.4,342.9" fill="#0d24bc"/>
<polygon points="262.2,332.5 263.72,332.5 266,337.7 263.72,342.9 262.2,342.9" fill="#0d24bc"/>
<polygon points="270,332.5 272.12,332.5 275.3,337.7 272.12,342.9 270,342.9" fill="#0d24bc"/>
<polygon points="275.3,332.5 278.5,332.5 281.7,337.7 278.5,342.9 275.3,342.9" fill="#0d24bc"/>
<polygon points="285.2,332.5 288.4,332.5 291.6,337.7 288.4,342.9 285.2,342.9" fill="#0d24bc"/>
<polygon points="303.3,332.5 305.18,332.5 308,337.7 305.18,342.9 303.3,342.9" fill="#0d24bc"/>
<polygon points="312.3,332.5 315.6,332.5 318.8,337.7 315.6,342.9 312.3,342.9" fill="#ff0000"/>
<polygon points="318.8,332.5 320.88,332.5 324,337.7 320.88,342.9 318.8,342.9" fill="#ff0000"/>
<polygon points="324,332.5 326.7,332.5 329.9,337.7 326.7,342.9 324,342.9" fill="#ff0000"/>
<polygon points="349.7,332.5 354.1,332.5 357.3,337.7 354.1,342.9 349.7,342.9" fill="#0d24bc"/>
<polygon points="357.3,332.5 364.6,332.5 367.8,337.7 364.6,342.9 357.3,342.9" fill="#0d24bc"/>
<polygon points="367.8,332.5 371.6,332.5 374.8,337.7 371.6,342.9 367.8,342.9" fill="#0d24bc"/>
<polygon points="378.9,332.5 380.86,332.5 383.8,337.7 380.86,342.9 378.9,342.9" fill="#0d24bc"/>
<polygon points="435.8,332.5 440.2,332.5 443.4,337.7 440.2,342.9 435.8,342.9" fill="#ff9898"/>
<polygon points="469.9,332.5 471.21,332.5 472.41,337.7 471.21,342.9 469.9,342.9" fill="#0d24bc"/>
<polygon points="472.41,332.5 473.72,332.5 474.92,337.7 473.72,342.9 472.41,342.9" fill="#0d24bc"/>
<polygon points="474.92,332.5 476.23,332.5 477.44,337.7 476.23,342.9 474.92,342.9" fill="#0d24bc"/>
<polygon points="477.44,332.5 478.74,332.5 479.95,337.7 478.74,342.9 477.44,342.9" fill="#0d24bc"/>
<polygon points="479.95,332.5 481.26,332.5 482.46,337.7 481.26,342.9 479.95,342.9" fill="#0d24bc"/>
<polygon points="482.46,332.5 483.77,332.5 484.98,337.7 483.77,342.9 482.46,342.9" fill="#0d24bc"/>
<polygon points="484.98,332.5 486.28,332.5 487.49,337.7 486.28,342.9 484.98,342.9" fill="#0d24bc"/>
<polygon points="487.49,332.5 488.79,332.5 490,337.7 488.79,342.9 487.49,342.9" fill="#0d24bc"/>
<polygon points="490,332.5 491.3,332.5 492.5,337.7 491.3,342.9 490,342.9" fill="#0d24bc"/>
<polygon points="492.5,332.5 493.8,332.5 495,337.7 493.8,342.9 492.5,342.9" fill="#0d24bc"/>
<polygon points="495,332.5 496.3,332.5 497.5,337.7 496.3,342.9 495,342.9" fill="#0d24bc"/>
<polygon points="497.5,332.5 498.8,332.5 500,337.7 498.8,342.9 497.5,342.9" fill="#0d24bc"/>
<polygon points="500,332.5 501.3,332.5 502.5,337.7 501.3,342.9 500,342.9" fill="#0d24bc"/>
<polygon points="502.5,332.5 503.8,332.5 505,337.7 503.8,342.9 502.5,342.9" fill="#0d24bc"/>
<polygon points="505,332.5 506.3,332.5 507.5,337.7 506.3,342.9 505,342.9" fill="#0d24bc"/>
<polygon points="507.5,332.5 508.8,332.5 510,337.7 508.8,342.9 507.5,342.9" fill="#0d24bc"/>
<polygon points="510,332.5 511.43,332.5 512.76,337.7 511.43,342.9 510,342.9" fill="#0d24bc"/>
<polygon points="512.76,332.5 514.19,332.5 515.51,337.7 514.19,342.9 512.76,342.9" fill="#0d24bc"/>
<polygon points="515.51,332.5 516.95,332.5 518.27,337.7 516.95,342.9 515.51,342.9" fill="#0d24bc"/>
<polygon points="518.27,332.5 519.71,332.5 521.03,337.7 519.71,342.9 518.27,342.9" fill="#0d24bc"/>
<polygon points="521.03,332.5 522.46,332.5 523.79,337.7 522.46,342.9 521.03,342.9" fill="#0d24bc"/>
<polygon points="523.79,332.5 525.22,332.5 526.54,337.7 525.22,342.9 523.79,342.9" fill="#0d24bc"/>
<polygon points="526.54,332.5 527.98,332.5 529.3,337.7 527.98,342.9 526.54,342.9" fill="#0d24bc"/>
<polygon points="102.8,344.3 100.82,344.3 99,349.7 100.82,355.1 102.8,355.1" fill="#0d24bc"/>
<polygon points="106.6,344.3 104.62,344.3 102.8,349.7 104.62,355.1 106.6,355.1" fill="#0d24bc"/>
<polygon points="110.4,344.3 108.42,344.3 106.6,349.7 108.42,355.1 110.4,355.1" fill="#0d24bc"/>
<polygon points="114.2,344.3 112.22,344.3 110.4,349.7 112.22,355.1 114.2,355.1" fill="#0d24bc"/>
<polygon points="118.3,344.3 116.18,344.3 113,349.7 116.18,355.1 118.3,355.1" fill="#ff0000"/>
<polygon points="121.8,344.3 119.92,344.3 117.1,349.7 119.92,355.1 121.8,355.1" fill="#129a1c"/>
<polygon points="124.7,344.3 122.82,344.3 120,349.7 122.82,355.1 124.7,355.1" fill="#0d24bc"/>
<polygon points="130.5,344.3 128.42,344.3 125.3,349.7 128.42,355.1 130.5,355.1" fill="#0d24bc"/>
<polygon points="144.6,344.3 140.2,344.3 137,349.7 140.2,355.1 144.6,355.1" fill="#ff0000"/>
<polygon points="149.2,344.3 147.36,344.3 144.6,349.7 147.36,355.1 149.2,355.1" fill="#0d24bc"/>
<polygon points="153.9,344.3 151.78,344.3 148.6,349.7 151.78,355.1 153.9,355.1" fill="#ff0000"/>
<polygon points="180.4,344.3 170.2,344.3 167,349.7 170.2,355.1 180.4,355.1" fill="#0d24bc"/>
<polygon points="182.8,344.3 181.64,344.3 179.9,349.7 181.64,355.1 182.8,355.1" fill="#0d24bc"/>
<polygon points="191,344.3 189.12,344.3 186.3,349.7 189.12,355.1 191,355.1" fill="#0d24bc"/>
<polygon points="199.1,344.3 194.7,344.3 191.5,349.7 194.7,355.1 199.1,355.1" fill="#ff9898"/>
<polygon points="207.9,344.3 203.5,344.3 200.3,349.7 203.5,355.1 207.9,355.1" fill="#0d24bc"/>
<polygon points="213.7,344.3 211.1,344.3 207.9,349.7 211.1,355.1 213.7,355.1" fill="#0d24bc"/>
<polygon points="268.9,344.3 267.02,344.3 264.2,349.7 267.02,355.1 268.9,355.1" fill="#0d24bc"/>
<polygon points="296.3,344.3 294.48,344.3 292.8,349.7 294.48,355.1 296.3,355.1" fill="#0d24bc"/>
<polygon points="299.8,344.3 297.98,344.3 296.3,349.7 297.98,355.1 299.8,355.1" fill="#0d24bc"/>
<polygon points="313.5,344.3 311.54,344.3 308.6,349.7 311.54,355.1 313.5,355.1" fill="#0d24bc"/>
<polygon points="338.6,344.3 334.8,344.3 331.6,349.7 334.8,355.1 338.6,355.1" fill="#0d24bc"/>
<polygon points="342.1,344.3 340.7,344.3 338.6,349.7 340.7,355.1 342.1,355.1" fill="#0d24bc"/>
<polygon points="352,344.3 347.1,344.3 343.9,349.7 347.1,355.1 352,355.1" fill="#0d24bc"/>
<polygon points="381.2,344.3 378.6,344.3 375.4,349.7 378.6,355.1 381.2,355.1" fill="#0d24bc"/>
<polygon points="388,344.3 385.6,344.3 382.4,349.7 385.6,355.1 388,355.1" fill="#0d24bc"/>
<polygon points="399,344.3 391.1,344.3 387.9,349.7 391.1,355.1 399,355.1" fill="#0d24bc"/>
<polygon points="402.5,344.3 401.1,344.3 399,349.7 401.1,355.1 402.5,355.1" fill="#0d24bc"/>
<polygon points="407.8,344.3 405.68,344.3 402.5,349.7 405.68,355.1 407.8,355.1" fill="#0d24bc"/>
<polygon points="424.1,344.3 415.1,344.3 411.9,349.7 415.1,355.1 424.1,355.1" fill="#0d24bc"/>
<polygon points="428.8,344.3 426.92,344.3 424.1,349.7 426.92,355.1 428.8,355.1" fill="#ff0000"/>
<polygon points="431.7,344.3 430.06,344.3 427.6,349.7 430.06,355.1 431.7,355.1" fill="#0d24bc"/>
<polygon points="435.8,344.3 434.16,344.3 431.7,349.7 434.16,355.1 435.8,355.1" fill="#0d24bc"/>
<polygon points="448.6,344.3 444.8,344.3 441.6,349.7 444.8,355.1 448.6,355.1" fill="#e4ad02"/>
<polygon points="460.9,344.3 451.8,344.3 448.6,349.7 451.8,355.1 460.9,355.1" fill="#e4ad02"/>
<polygon points="469.9,344.3 465.2,344.3 462,349.7 465.2,355.1 469.9,355.1" fill="#e4ad02"/>
<polygon points="534.3,344.3 531.2,344.3 528,349.7 531.2,355.1 534.3,355.1" fill="#ff0000"/>
<text x="15.9" y="316.8" font-size="4.9" fill="#2a3cc8">tufA</text>
<line x1="19.2" y1="317.7" x2="19.2" y2="328" stroke="#5060d0" stroke-width="0.75"/>
<text x="36.9" y="316.8" font-size="4.9" fill="#2a3cc8">rpoB</text>
<line x1="42.2" y1="317.7" x2="42.2" y2="328" stroke="#5060d0" stroke-width="0.75"/>
<text x="59.7" y="316.8" font-size="4.9" fill="#2a3cc8">rpoC</text>
<line x1="65.2" y1="317.7" x2="65.2" y2="328" stroke="#5060d0" stroke-width="0.75"/>
<text x="82" y="316.8" font-size="4.9" fill="#2a3cc8">fusA</text>
<line x1="87.3" y1="317.7" x2="87.3" y2="328" stroke="#5060d0" stroke-width="0.75"/>
<text x="100.9" y="315.7" font-size="4.9" fill="#2a3cc8">tyrS</text>
<line x1="105.5" y1="316.6" x2="105.5" y2="328" stroke="#5060d0" stroke-width="0.75"/>
<text x="108.1" y="306.3" font-size="4.9" fill="#ff1010">dapF</text>
<line x1="115.1" y1="307.2" x2="115.1" y2="328" stroke="#f03030" stroke-width="0.75"/>
<text x="114" y="298.4" font-size="4.9" fill="#20a030">tpiA</text>
<line x1="119" y1="299.3" x2="119" y2="328" stroke="#40b050" stroke-width="0.75"/>
<text x="118.7" y="317" font-size="4.9" fill="#2a3cc8">ssb</text>
<line x1="121.9" y1="317.9" x2="121.9" y2="328" stroke="#5060d0" stroke-width="0.75"/>
<text x="128.9" y="307.9" font-size="4.9" fill="#20a030">iscS</text>
<line x1="133.8" y1="308.8" x2="133.8" y2="328" stroke="#40b050" stroke-width="0.75"/>
<text x="136.8" y="316.8" font-size="4.9" fill="#ff1010">lysS</text>
<line x1="140.3" y1="317.7" x2="140.3" y2="328" stroke="#f03030" stroke-width="0.75"/>
<text x="141.6" y="284.6" font-size="4.9" fill="#2a3cc8">prfB</text>
<line x1="146.6" y1="285.5" x2="146.6" y2="328" stroke="#5060d0" stroke-width="0.75"/>
<text x="146.9" y="293.8" font-size="4.9" fill="#ff1010">dapA</text>
<line x1="151.2" y1="294.7" x2="151.2" y2="328" stroke="#f03030" stroke-width="0.75"/>
<text x="152.8" y="299.7" font-size="4.9" fill="#2a3cc8">tilS</text>
<line x1="156.1" y1="300.6" x2="156.1" y2="328" stroke="#5060d0" stroke-width="0.75"/>
<text x="158.7" y="306.3" font-size="4.9" fill="#ff1010">lysC</text>
<line x1="162.7" y1="307.2" x2="162.7" y2="328" stroke="#f03030" stroke-width="0.75"/>
<text x="169.9" y="317" font-size="4.9" fill="#2a3cc8">ileS</text>
<line x1="173.6" y1="317.9" x2="173.6" y2="328" stroke="#5060d0" stroke-width="0.75"/>
<text x="177.9" y="307.6" font-size="4.9" fill="#2a3cc8">rluA</text>
<line x1="184.2" y1="308.5" x2="184.2" y2="328" stroke="#5060d0" stroke-width="0.75"/>
<text x="183.5" y="297.7" font-size="4.9" fill="#2a3cc8">prfA</text>
<line x1="188.4" y1="298.6" x2="188.4" y2="328" stroke="#5060d0" stroke-width="0.75"/>
<text x="190.8" y="316.1" font-size="4.9" fill="#ff9090">argH</text>
<line x1="194.7" y1="317" x2="194.7" y2="328" stroke="#ffaaaa" stroke-width="0.75"/>
<text x="198" y="306.9" font-size="4.9" fill="#2a3cc8">glnS</text>
<line x1="204.2" y1="307.8" x2="204.2" y2="328" stroke="#5060d0" stroke-width="0.75"/>
<text x="205.5" y="298.4" font-size="4.9" fill="#2a3cc8">tsaD</text>
<line x1="210.5" y1="299.3" x2="210.5" y2="328" stroke="#5060d0" stroke-width="0.75"/>
<text x="211.1" y="316.8" font-size="4.9" fill="#2a3cc8">dnaG</text>
<line x1="217.3" y1="317.7" x2="217.3" y2="328" stroke="#5060d0" stroke-width="0.75"/>
<text x="218.6" y="308.3" font-size="4.9" fill="#2a3cc8">rpoD</text>
<line x1="224.5" y1="309.2" x2="224.5" y2="328" stroke="#5060d0" stroke-width="0.75"/>
<text x="232.8" y="316.1" font-size="4.9" fill="#2a3cc8">dnaE</text>
<line x1="238.5" y1="317" x2="238.5" y2="328" stroke="#5060d0" stroke-width="0.75"/>
<text x="247.3" y="306.3" font-size="4.9" fill="#ff1010">asd</text>
<line x1="251.9" y1="307.2" x2="251.9" y2="328" stroke="#f03030" stroke-width="0.75"/>
<text x="253.2" y="316.1" font-size="4.9" fill="#a020c0">trpB</text>
<line x1="257.5" y1="317" x2="257.5" y2="328" stroke="#a040c0" stroke-width="0.75"/>
<text x="258.3" y="307.9" font-size="4.9" fill="#2a3cc8">dnaQ</text>
<line x1="266.6" y1="308.8" x2="266.6" y2="328" stroke="#5060d0" stroke-width="0.75"/>
<text x="268.1" y="297.3" font-size="4.9" fill="#2a3cc8">clpP</text>
<line x1="272.7" y1="298.2" x2="272.7" y2="328" stroke="#5060d0" stroke-width="0.75"/>
<text x="272.1" y="316.8" font-size="4.9" fill="#2a3cc8">clpX</text>
<line x1="278.4" y1="317.7" x2="278.4" y2="328" stroke="#5060d0" stroke-width="0.75"/>
<text x="281.9" y="307.6" font-size="4.9" fill="#2a3cc8">dnaX</text>
<line x1="288.5" y1="308.5" x2="288.5" y2="328" stroke="#5060d0" stroke-width="0.75"/>
<text x="295.1" y="306.9" font-size="4.9" fill="#2a3cc8">rplT</text>
<line x1="297.3" y1="307.8" x2="297.3" y2="328" stroke="#5060d0" stroke-width="0.75"/>
<text x="306.9" y="316.8" font-size="4.9" fill="#ff1010">dapC</text>
<line x1="315.4" y1="317.7" x2="315.4" y2="328" stroke="#f03030" stroke-width="0.75"/>
<text x="314.8" y="297.3" font-size="4.9" fill="#ff1010">dapD</text>
<line x1="321.4" y1="298.2" x2="321.4" y2="328" stroke="#f03030" stroke-width="0.75"/>
<text x="323.1" y="307.6" font-size="4.9" fill="#ff1010">dapE</text>
<line x1="326.6" y1="308.5" x2="326.6" y2="328" stroke="#f03030" stroke-width="0.75"/>
<text x="329.2" y="316.8" font-size="4.9" fill="#2a3cc8">dnaB</text>
<line x1="334.9" y1="317.7" x2="334.9" y2="328" stroke="#5060d0" stroke-width="0.75"/>
<text x="342.9" y="308.3" font-size="4.9" fill="#2a3cc8">gltX</text>
<line x1="347.5" y1="309.2" x2="347.5" y2="328" stroke="#5060d0" stroke-width="0.75"/>
<text x="345.8" y="298.4" font-size="4.9" fill="#2a3cc8">mnmE</text>
<line x1="353.4" y1="299.3" x2="353.4" y2="328" stroke="#5060d0" stroke-width="0.75"/>
<text x="355" y="316.8" font-size="4.9" fill="#2a3cc8">mnmG</text>
<line x1="362.3" y1="317.7" x2="362.3" y2="328" stroke="#5060d0" stroke-width="0.75"/>
<text x="365.9" y="308.6" font-size="4.9" fill="#2a3cc8">rpsA</text>
<line x1="371.4" y1="309.5" x2="371.4" y2="328" stroke="#5060d0" stroke-width="0.75"/>
<text x="370.7" y="297.7" font-size="4.9" fill="#2a3cc8">dnaN</text>
<line x1="378.1" y1="298.6" x2="378.1" y2="328" stroke="#5060d0" stroke-width="0.75"/>
<text x="379" y="293.1" font-size="4.9" fill="#2a3cc8">dnaJ</text>
<line x1="384.9" y1="294" x2="384.9" y2="328" stroke="#5060d0" stroke-width="0.75"/>
<text x="387.6" y="316.8" font-size="4.9" fill="#2a3cc8">dnaK</text>
<line x1="393.2" y1="317.7" x2="393.2" y2="328" stroke="#5060d0" stroke-width="0.75"/>
<text x="398.1" y="306.3" font-size="4.9" fill="#2a3cc8">mnmA</text>
<line x1="405.3" y1="307.2" x2="405.3" y2="328" stroke="#5060d0" stroke-width="0.75"/>
<text x="412.3" y="316.8" font-size="4.9" fill="#2a3cc8">leuS</text>
<line x1="418.4" y1="317.7" x2="418.4" y2="328" stroke="#5060d0" stroke-width="0.75"/>
<text x="418.5" y="293.1" font-size="4.9" fill="#ff1010">dapB</text>
<line x1="426.4" y1="294" x2="426.4" y2="328" stroke="#f03030" stroke-width="0.75"/>
<text x="430" y="298.4" font-size="4.9" fill="#2a3cc8">rsmH</text>
<line x1="433.4" y1="299.3" x2="433.4" y2="328" stroke="#5060d0" stroke-width="0.75"/>
<text x="436" y="306.9" font-size="4.9" fill="#ff9090">argG</text>
<line x1="439.6" y1="307.8" x2="439.6" y2="328" stroke="#ffaaaa" stroke-width="0.75"/>
<text x="445.2" y="316.5" font-size="4.9" fill="#e0a810">rRNA</text>
<line x1="452.3" y1="317.4" x2="452.3" y2="328" stroke="#e8b840" stroke-width="0.75"/>
<text x="458.9" y="306.9" font-size="4.9" fill="#e0a810">rRNA</text>
<line x1="465.8" y1="307.8" x2="465.8" y2="328" stroke="#e8b840" stroke-width="0.75"/>
<text x="518.6" y="303.6" font-size="4.9" fill="#2a3cc8">rpoA</text>
<line x1="524.4" y1="304.5" x2="524.4" y2="328" stroke="#5060d0" stroke-width="0.75"/>
<text x="525.7" y="316.5" font-size="4.9" fill="#ff1010">lysA</text>
<line x1="530.9" y1="317.4" x2="530.9" y2="328" stroke="#f03030" stroke-width="0.75"/>
<text x="476.2" y="306" font-size="5.2" fill="#2a3cc8">ribosomal subunit</text>
<text x="488" y="312.7" font-size="5.2" fill="#2a3cc8">proteins</text>
<path d="M469.1 326.6 V323.2 H522.5 V326.6" fill="none" stroke="#3040c8" stroke-width="0.8"/>
<rect x="563.9" y="296" width="5.9" height="5.9" fill="#0d24bc"/>
<text x="574" y="301.3" font-size="6.5" fill="#111" textLength="89" lengthAdjust="spacingAndGlyphs">Genetic information processing</text>
<rect x="563.9" y="305.18" width="5.9" height="5.9" fill="#ff0000"/>
<text x="574" y="310.48" font-size="6.5" fill="#111" textLength="56.9" lengthAdjust="spacingAndGlyphs">Biosynthesis-Lysine</text>
<rect x="563.9" y="314.36" width="5.9" height="5.9" fill="#c80034"/>
<text x="574" y="319.66" font-size="6.5" fill="#111" textLength="82.5" lengthAdjust="spacingAndGlyphs">Biosynthesis-Phenylalanine</text>
<rect x="563.9" y="323.54" width="5.9" height="5.9" fill="#ff9898"/>
<text x="574" y="328.84" font-size="6.5" fill="#111" textLength="62.2" lengthAdjust="spacingAndGlyphs">Biosynthesis-Arginine</text>
<rect x="563.9" y="332.72" width="5.9" height="5.9" fill="#a800c0"/>
<text x="574" y="338.02" font-size="6.5" fill="#111" textLength="71.1" lengthAdjust="spacingAndGlyphs">Biosynthesis-Tryptophan</text>
<rect x="563.9" y="341.9" width="5.9" height="5.9" fill="#129a1c"/>
<text x="574" y="347.2" font-size="6.5" fill="#111" textLength="33.8" lengthAdjust="spacingAndGlyphs">Metabolism</text>
<rect x="563.9" y="351.08" width="5.9" height="5.9" fill="#e4ad02"/>
<text x="574" y="356.38" font-size="6.5" fill="#111" textLength="16.7" lengthAdjust="spacingAndGlyphs">rRNA</text>
<line x1="399.5" y1="257" x2="399.5" y2="265" stroke="#bdbdbd" stroke-width="0.9"/>
<line x1="424.82" y1="29.6" x2="424.82" y2="265" stroke="#bdbdbd" stroke-width="0.9"/>
<line x1="450.15" y1="29.6" x2="450.15" y2="265" stroke="#bdbdbd" stroke-width="0.9"/>
<line x1="475.48" y1="29.6" x2="475.48" y2="265" stroke="#bdbdbd" stroke-width="0.9"/>
<line x1="500.8" y1="29.6" x2="500.8" y2="265" stroke="#bdbdbd" stroke-width="0.9"/>
<line x1="526.12" y1="29.6" x2="526.12" y2="265" stroke="#bdbdbd" stroke-width="0.9"/>
<line x1="551.45" y1="29.6" x2="551.45" y2="265" stroke="#bdbdbd" stroke-width="0.9"/>
<line x1="576.77" y1="29.6" x2="576.77" y2="265" stroke="#bdbdbd" stroke-width="0.9"/>
<line x1="602.1" y1="29.6" x2="602.1" y2="265" stroke="#bdbdbd" stroke-width="0.9"/>
<line x1="627.42" y1="29.6" x2="627.42" y2="265" stroke="#bdbdbd" stroke-width="0.9"/>
<line x1="652.75" y1="29.6" x2="652.75" y2="265" stroke="#bdbdbd" stroke-width="0.9"/>
<line x1="388.2" y1="253.6" x2="665.2" y2="253.6" stroke="#bdbdbd" stroke-width="0.9"/>
<line x1="388.2" y1="231.4" x2="665.2" y2="231.4" stroke="#bdbdbd" stroke-width="0.9"/>
<line x1="388.2" y1="209.2" x2="665.2" y2="209.2" stroke="#bdbdbd" stroke-width="0.9"/>
<line x1="388.2" y1="187" x2="665.2" y2="187" stroke="#bdbdbd" stroke-width="0.9"/>
<line x1="388.2" y1="164.8" x2="665.2" y2="164.8" stroke="#bdbdbd" stroke-width="0.9"/>
<line x1="388.2" y1="142.6" x2="665.2" y2="142.6" stroke="#bdbdbd" stroke-width="0.9"/>
<line x1="388.2" y1="120.4" x2="665.2" y2="120.4" stroke="#bdbdbd" stroke-width="0.9"/>
<line x1="388.2" y1="98.2" x2="665.2" y2="98.2" stroke="#bdbdbd" stroke-width="0.9"/>
<line x1="388.2" y1="76" x2="665.2" y2="76" stroke="#bdbdbd" stroke-width="0.9"/>
<line x1="388.2" y1="53.8" x2="665.2" y2="53.8" stroke="#bdbdbd" stroke-width="0.9"/>
<line x1="388.2" y1="31.3" x2="395" y2="31.3" stroke="#bdbdbd" stroke-width="0.9"/>
<path d="M399.3 29.7 H665.1 V257.2" fill="none" stroke="#1a1a1a" stroke-width="1"/>
<text x="387.6" y="255.3" font-size="4.9" fill="#333" text-anchor="end">0k</text>
<text x="399.5" y="271.4" font-size="4.9" fill="#333" text-anchor="middle">0k</text>
<text x="387.6" y="210.9" font-size="4.9" fill="#333" text-anchor="end">10k</text>
<text x="450.15" y="271.4" font-size="4.9" fill="#333" text-anchor="middle">10k</text>
<text x="387.6" y="166.5" font-size="4.9" fill="#333" text-anchor="end">20k</text>
<text x="500.8" y="271.4" font-size="4.9" fill="#333" text-anchor="middle">20k</text>
<text x="387.6" y="122.1" font-size="4.9" fill="#333" text-anchor="end">30k</text>
<text x="551.45" y="271.4" font-size="4.9" fill="#333" text-anchor="middle">30k</text>
<text x="387.6" y="77.7" font-size="4.9" fill="#333" text-anchor="end">40k</text>
<text x="602.1" y="271.4" font-size="4.9" fill="#333" text-anchor="middle">40k</text>
<text x="387.6" y="33" font-size="4.9" fill="#333" text-anchor="end">50k</text>
<text x="652.75" y="271.4" font-size="4.9" fill="#333" text-anchor="middle">50k</text>
<text x="471.2" y="280.7" font-size="7.65" fill="#222"><tspan font-style="italic">Vidania</tspan> VFMALBOS (52,460 bp)</text>
<text transform="translate(374.2 197.2) rotate(-90)" font-size="8" fill="#222" textLength="109.4" lengthAdjust="spacingAndGlyphs"><tspan font-style="italic">Vidania</tspan> VFSACSP1 (50,141 bp)</text>
<rect x="395.6" y="29.8" width="3.6" height="223.8" fill="#fff" stroke="#111" stroke-width="0.7"/>
<rect x="399.3" y="253.6" width="265.8" height="3.5" fill="#fff" stroke="#111" stroke-width="0.7"/>
<rect x="395.6" y="249.81" width="3.6" height="3.79" fill="#0d24bc" stroke="#111" stroke-width="0.45"/>
<rect x="395.6" y="248.15" width="3.6" height="1.66" fill="#0d24bc" stroke="#111" stroke-width="0.45"/>
<rect x="395.6" y="246.49" width="3.6" height="1.66" fill="#0d24bc" stroke="#111" stroke-width="0.45"/>
<rect x="395.6" y="244.83" width="3.6" height="1.66" fill="#0d24bc" stroke="#111" stroke-width="0.45"/>
<rect x="395.6" y="243.17" width="3.6" height="1.66" fill="#0d24bc" stroke="#111" stroke-width="0.45"/>
<rect x="395.6" y="227.87" width="3.6" height="15.29" fill="#0d24bc" stroke="#111" stroke-width="0.45"/>
<rect x="395.6" y="213.51" width="3.6" height="14.36" fill="#0d24bc" stroke="#111" stroke-width="0.45"/>
<rect x="395.6" y="211.7" width="3.6" height="1.81" fill="#0d24bc" stroke="#111" stroke-width="0.45"/>
<rect x="395.6" y="209.89" width="3.6" height="1.81" fill="#0d24bc" stroke="#111" stroke-width="0.45"/>
<rect x="395.6" y="208.08" width="3.6" height="1.81" fill="#0d24bc" stroke="#111" stroke-width="0.45"/>
<rect x="395.6" y="200.29" width="3.6" height="7.79" fill="#0d24bc" stroke="#111" stroke-width="0.45"/>
<rect x="395.6" y="198.29" width="3.6" height="2" fill="#0d24bc" stroke="#111" stroke-width="0.45"/>
<rect x="395.6" y="195.78" width="3.6" height="2.5" fill="#0d24bc" stroke="#111" stroke-width="0.45"/>
<rect x="395.6" y="180.78" width="3.6" height="4.57" fill="#0d24bc" stroke="#111" stroke-width="0.45"/>
<rect x="395.6" y="168.49" width="3.6" height="11.86" fill="#0d24bc" stroke="#111" stroke-width="0.45"/>
<rect x="395.6" y="165.34" width="3.6" height="3.14" fill="#0d24bc" stroke="#111" stroke-width="0.45"/>
<rect x="395.6" y="162.05" width="3.6" height="2.07" fill="#0d24bc" stroke="#111" stroke-width="0.45"/>
<rect x="395.6" y="159.48" width="3.6" height="2.57" fill="#0d24bc" stroke="#111" stroke-width="0.45"/>
<rect x="395.6" y="154.34" width="3.6" height="5.15" fill="#0d24bc" stroke="#111" stroke-width="0.45"/>
<rect x="395.6" y="129.68" width="3.6" height="1.72" fill="#0d24bc" stroke="#111" stroke-width="0.45"/>
<rect x="395.6" y="124.25" width="3.6" height="5.43" fill="#c80034" stroke="#111" stroke-width="0.45"/>
<rect x="395.6" y="118.03" width="3.6" height="2.5" fill="#0d24bc" stroke="#111" stroke-width="0.45"/>
<rect x="395.6" y="102.17" width="3.6" height="4.14" fill="#c80034" stroke="#111" stroke-width="0.45"/>
<rect x="395.6" y="97.16" width="3.6" height="2.07" fill="#c80034" stroke="#111" stroke-width="0.45"/>
<rect x="395.6" y="72.94" width="3.6" height="2.64" fill="#0d24bc" stroke="#111" stroke-width="0.45"/>
<rect x="395.6" y="69.26" width="3.6" height="2.18" fill="#0d24bc" stroke="#111" stroke-width="0.45"/>
<rect x="395.6" y="67.08" width="3.6" height="2.18" fill="#0d24bc" stroke="#111" stroke-width="0.45"/>
<rect x="395.6" y="64.9" width="3.6" height="2.18" fill="#0d24bc" stroke="#111" stroke-width="0.45"/>
<rect x="395.6" y="62.72" width="3.6" height="2.18" fill="#0d24bc" stroke="#111" stroke-width="0.45"/>
<rect x="395.6" y="61.05" width="3.6" height="1.67" fill="#0d24bc" stroke="#111" stroke-width="0.45"/>
<rect x="395.6" y="59.38" width="3.6" height="1.67" fill="#0d24bc" stroke="#111" stroke-width="0.45"/>
<rect x="395.6" y="57.71" width="3.6" height="1.67" fill="#0d24bc" stroke="#111" stroke-width="0.45"/>
<rect x="395.6" y="56.05" width="3.6" height="1.67" fill="#0d24bc" stroke="#111" stroke-width="0.45"/>
<rect x="395.6" y="54.38" width="3.6" height="1.67" fill="#0d24bc" stroke="#111" stroke-width="0.45"/>
<rect x="395.6" y="52.71" width="3.6" height="1.67" fill="#0d24bc" stroke="#111" stroke-width="0.45"/>
<rect x="395.6" y="50.57" width="3.6" height="2.14" fill="#0d24bc" stroke="#111" stroke-width="0.45"/>
<rect x="395.6" y="48.42" width="3.6" height="2.14" fill="#0d24bc" stroke="#111" stroke-width="0.45"/>
<rect x="395.6" y="46.64" width="3.6" height="1.79" fill="#0d24bc" stroke="#111" stroke-width="0.45"/>
<rect x="395.6" y="44.85" width="3.6" height="1.79" fill="#0d24bc" stroke="#111" stroke-width="0.45"/>
<rect x="395.6" y="43.06" width="3.6" height="1.79" fill="#0d24bc" stroke="#111" stroke-width="0.45"/>
<rect x="395.6" y="41.28" width="3.6" height="1.79" fill="#0d24bc" stroke="#111" stroke-width="0.45"/>
<rect x="395.6" y="39.49" width="3.6" height="1.79" fill="#0d24bc" stroke="#111" stroke-width="0.45"/>
<rect x="395.6" y="37.7" width="3.6" height="1.79" fill="#0d24bc" stroke="#111" stroke-width="0.45"/>
<rect x="395.6" y="35.92" width="3.6" height="1.79" fill="#0d24bc" stroke="#111" stroke-width="0.45"/>
<rect x="395.6" y="33.42" width="3.6" height="2.5" fill="#c80034" stroke="#111" stroke-width="0.45"/>
<rect x="395.6" y="29.7" width="3.6" height="3.72" fill="#c80034" stroke="#111" stroke-width="0.45"/>
<rect x="392.1" y="194.36" width="3.5" height="1.43" fill="#0d24bc" stroke="#111" stroke-width="0.45"/>
<rect x="392.1" y="192.93" width="3.5" height="1.43" fill="#0d24bc" stroke="#111" stroke-width="0.45"/>
<rect x="392.1" y="191.25" width="3.5" height="1.68" fill="#129a1c" stroke="#111" stroke-width="0.45"/>
<rect x="392.1" y="189.57" width="3.5" height="1.68" fill="#129a1c" stroke="#111" stroke-width="0.45"/>
<rect x="392.1" y="187.85" width="3.5" height="1.72" fill="#0d24bc" stroke="#111" stroke-width="0.45"/>
<rect x="392.1" y="163.7" width="3.5" height="2.5" fill="#0d24bc" stroke="#111" stroke-width="0.45"/>
<rect x="392.1" y="151.76" width="3.5" height="2.43" fill="#0d24bc" stroke="#111" stroke-width="0.45"/>
<rect x="392.1" y="149.9" width="3.5" height="1.86" fill="#0d24bc" stroke="#111" stroke-width="0.45"/>
<rect x="392.1" y="145.4" width="3.5" height="4.5" fill="#c80034" stroke="#111" stroke-width="0.45"/>
<rect x="392.1" y="140.11" width="3.5" height="2.07" fill="#0d24bc" stroke="#111" stroke-width="0.45"/>
<rect x="392.1" y="133.47" width="3.5" height="6.65" fill="#0d24bc" stroke="#111" stroke-width="0.45"/>
<rect x="392.1" y="120.1" width="3.5" height="4.14" fill="#0d24bc" stroke="#111" stroke-width="0.45"/>
<rect x="392.1" y="114.67" width="3.5" height="4.14" fill="#0d24bc" stroke="#111" stroke-width="0.45"/>
<rect x="392.1" y="106.74" width="3.5" height="7.93" fill="#0d24bc" stroke="#111" stroke-width="0.45"/>
<rect x="392.1" y="98.45" width="3.5" height="3.72" fill="#c80034" stroke="#111" stroke-width="0.45"/>
<rect x="392.1" y="94.88" width="3.5" height="2.72" fill="#0d24bc" stroke="#111" stroke-width="0.45"/>
<rect x="392.1" y="81.73" width="3.5" height="13.15" fill="#e4ad02" stroke="#111" stroke-width="0.45"/>
<rect x="392.1" y="75.29" width="3.5" height="6" fill="#e4ad02" stroke="#111" stroke-width="0.45"/>
<rect x="399.58" y="253.6" width="3.84" height="3.5" fill="#0d24bc" stroke="#111" stroke-width="0.45"/>
<rect x="403.42" y="253.6" width="1.99" height="3.5" fill="#0d24bc" stroke="#111" stroke-width="0.45"/>
<rect x="405.41" y="253.6" width="1.99" height="3.5" fill="#0d24bc" stroke="#111" stroke-width="0.45"/>
<rect x="407.39" y="253.6" width="1.99" height="3.5" fill="#0d24bc" stroke="#111" stroke-width="0.45"/>
<rect x="409.38" y="253.6" width="1.99" height="3.5" fill="#0d24bc" stroke="#111" stroke-width="0.45"/>
<rect x="411.37" y="253.6" width="1.99" height="3.5" fill="#0d24bc" stroke="#111" stroke-width="0.45"/>
<rect x="413.35" y="253.6" width="1.99" height="3.5" fill="#0d24bc" stroke="#111" stroke-width="0.45"/>
<rect x="415.34" y="253.6" width="16.66" height="3.5" fill="#0d24bc" stroke="#111" stroke-width="0.45"/>
<rect x="432" y="253.6" width="16.17" height="3.5" fill="#0d24bc" stroke="#111" stroke-width="0.45"/>
<rect x="448.16" y="253.6" width="2.1" height="3.5" fill="#0d24bc" stroke="#111" stroke-width="0.45"/>
<rect x="450.26" y="253.6" width="2.1" height="3.5" fill="#0d24bc" stroke="#111" stroke-width="0.45"/>
<rect x="452.35" y="253.6" width="2.1" height="3.5" fill="#0d24bc" stroke="#111" stroke-width="0.45"/>
<rect x="454.45" y="253.6" width="8.74" height="3.5" fill="#0d24bc" stroke="#111" stroke-width="0.45"/>
<rect x="463.19" y="253.6" width="1.91" height="3.5" fill="#0d24bc" stroke="#111" stroke-width="0.45"/>
<rect x="465.09" y="253.6" width="1.91" height="3.5" fill="#0d24bc" stroke="#111" stroke-width="0.45"/>
<rect x="467" y="253.6" width="1.91" height="3.5" fill="#0d24bc" stroke="#111" stroke-width="0.45"/>
<rect x="480.82" y="253.6" width="2.45" height="3.5" fill="#0d24bc" stroke="#111" stroke-width="0.45"/>
<rect x="494.7" y="253.6" width="15.19" height="3.5" fill="#0d24bc" stroke="#111" stroke-width="0.45"/>
<rect x="510.87" y="253.6" width="3.35" height="3.5" fill="#129a1c" stroke="#111" stroke-width="0.45"/>
<rect x="514.22" y="253.6" width="2.12" height="3.5" fill="#0d24bc" stroke="#111" stroke-width="0.45"/>
<rect x="531.69" y="253.6" width="2.37" height="3.5" fill="#0d24bc" stroke="#111" stroke-width="0.45"/>
<rect x="535.61" y="253.6" width="2.69" height="3.5" fill="#129a1c" stroke="#111" stroke-width="0.45"/>
<rect x="544.51" y="253.6" width="6.61" height="3.5" fill="#c80034" stroke="#111" stroke-width="0.45"/>
<rect x="573.82" y="253.6" width="4.74" height="3.5" fill="#c80034" stroke="#111" stroke-width="0.45"/>
<rect x="581.98" y="253.6" width="2.53" height="3.5" fill="#c80034" stroke="#111" stroke-width="0.45"/>
<rect x="610.31" y="253.6" width="1.8" height="3.5" fill="#0d24bc" stroke="#111" stroke-width="0.45"/>
<rect x="612.11" y="253.6" width="1.8" height="3.5" fill="#0d24bc" stroke="#111" stroke-width="0.45"/>
<rect x="613.91" y="253.6" width="1.8" height="3.5" fill="#0d24bc" stroke="#111" stroke-width="0.45"/>
<rect x="617.09" y="253.6" width="1.76" height="3.5" fill="#0d24bc" stroke="#111" stroke-width="0.45"/>
<rect x="618.85" y="253.6" width="1.76" height="3.5" fill="#0d24bc" stroke="#111" stroke-width="0.45"/>
<rect x="620.61" y="253.6" width="1.76" height="3.5" fill="#0d24bc" stroke="#111" stroke-width="0.45"/>
<rect x="622.37" y="253.6" width="1.76" height="3.5" fill="#0d24bc" stroke="#111" stroke-width="0.45"/>
<rect x="624.14" y="253.6" width="1.76" height="3.5" fill="#0d24bc" stroke="#111" stroke-width="0.45"/>
<rect x="625.9" y="253.6" width="1.76" height="3.5" fill="#0d24bc" stroke="#111" stroke-width="0.45"/>
<rect x="627.66" y="253.6" width="1.76" height="3.5" fill="#0d24bc" stroke="#111" stroke-width="0.45"/>
<rect x="629.42" y="253.6" width="2.04" height="3.5" fill="#0d24bc" stroke="#111" stroke-width="0.45"/>
<rect x="631.46" y="253.6" width="2.04" height="3.5" fill="#0d24bc" stroke="#111" stroke-width="0.45"/>
<rect x="633.5" y="253.6" width="2.04" height="3.5" fill="#0d24bc" stroke="#111" stroke-width="0.45"/>
<rect x="635.54" y="253.6" width="2.04" height="3.5" fill="#0d24bc" stroke="#111" stroke-width="0.45"/>
<rect x="637.58" y="253.6" width="2.04" height="3.5" fill="#0d24bc" stroke="#111" stroke-width="0.45"/>
<rect x="639.63" y="253.6" width="2.04" height="3.5" fill="#0d24bc" stroke="#111" stroke-width="0.45"/>
<rect x="641.67" y="253.6" width="1.92" height="3.5" fill="#0d24bc" stroke="#111" stroke-width="0.45"/>
<rect x="643.59" y="253.6" width="1.92" height="3.5" fill="#0d24bc" stroke="#111" stroke-width="0.45"/>
<rect x="645.5" y="253.6" width="1.92" height="3.5" fill="#0d24bc" stroke="#111" stroke-width="0.45"/>
<rect x="647.42" y="253.6" width="1.92" height="3.5" fill="#0d24bc" stroke="#111" stroke-width="0.45"/>
<rect x="649.34" y="253.6" width="1.92" height="3.5" fill="#0d24bc" stroke="#111" stroke-width="0.45"/>
<rect x="651.26" y="253.6" width="1.92" height="3.5" fill="#0d24bc" stroke="#111" stroke-width="0.45"/>
<rect x="653.18" y="253.6" width="1.92" height="3.5" fill="#0d24bc" stroke="#111" stroke-width="0.45"/>
<rect x="655.1" y="253.6" width="1.92" height="3.5" fill="#0d24bc" stroke="#111" stroke-width="0.45"/>
<rect x="657.02" y="253.6" width="3.84" height="3.5" fill="#c80034" stroke="#111" stroke-width="0.45"/>
<rect x="660.85" y="253.6" width="4.25" height="3.5" fill="#c80034" stroke="#111" stroke-width="0.45"/>
<rect x="470.37" y="257.1" width="2.39" height="3.4" fill="#0d24bc" stroke="#111" stroke-width="0.45"/>
<rect x="472.77" y="257.1" width="2.39" height="3.4" fill="#0d24bc" stroke="#111" stroke-width="0.45"/>
<rect x="475.16" y="257.1" width="2.39" height="3.4" fill="#0d24bc" stroke="#111" stroke-width="0.45"/>
<rect x="477.56" y="257.1" width="3.27" height="3.4" fill="#129a1c" stroke="#111" stroke-width="0.45"/>
<rect x="483.27" y="257.1" width="3.59" height="3.4" fill="#0d24bc" stroke="#111" stroke-width="0.45"/>
<rect x="486.86" y="257.1" width="3.51" height="3.4" fill="#0d24bc" stroke="#111" stroke-width="0.45"/>
<rect x="517.56" y="257.1" width="4.08" height="3.4" fill="#0d24bc" stroke="#111" stroke-width="0.45"/>
<rect x="521.64" y="257.1" width="4.08" height="3.4" fill="#0d24bc" stroke="#111" stroke-width="0.45"/>
<rect x="526.38" y="257.1" width="4.74" height="3.4" fill="#c80034" stroke="#111" stroke-width="0.45"/>
<rect x="553.73" y="257.1" width="5.39" height="3.4" fill="#0d24bc" stroke="#111" stroke-width="0.45"/>
<rect x="559.12" y="257.1" width="5.39" height="3.4" fill="#0d24bc" stroke="#111" stroke-width="0.45"/>
<rect x="564.51" y="257.1" width="8.9" height="3.4" fill="#0d24bc" stroke="#111" stroke-width="0.45"/>
<rect x="578.47" y="257.1" width="3.51" height="3.4" fill="#c80034" stroke="#111" stroke-width="0.45"/>
<rect x="583.53" y="257.1" width="4.16" height="3.4" fill="#0d24bc" stroke="#111" stroke-width="0.45"/>
<rect x="587.13" y="257.1" width="15.02" height="3.4" fill="#e4ad02" stroke="#111" stroke-width="0.45"/>
<rect x="602.15" y="257.1" width="8.82" height="3.4" fill="#e4ad02" stroke="#111" stroke-width="0.45"/>
<polygon points="398.9,251.35 407.6,244.25 407.6,247.95 398.9,255.05" fill="#0d24bc" stroke="#111" stroke-width="0.6" stroke-linejoin="miter"/>
<polygon points="409.9,245.85 468.8,192.45 468.8,196.15 409.9,249.55" fill="#0d24bc" stroke="#111" stroke-width="0.6" stroke-linejoin="miter"/>
<polygon points="473.2,195.65 477.4,191.75 477.4,195.45 473.2,199.35" fill="#0d24bc" stroke="#111" stroke-width="0.6" stroke-linejoin="miter"/>
<polygon points="477.4,191.75 480.6,188.55 480.6,192.25 477.4,195.45" fill="#129a1c" stroke="#111" stroke-width="0.6" stroke-linejoin="miter"/>
<polygon points="482.9,190.15 486.4,185.45 486.4,189.15 482.9,193.85" fill="#0d24bc" stroke="#111" stroke-width="0.6" stroke-linejoin="miter"/>
<polygon points="494.2,179.95 509.9,165.85 509.9,169.55 494.2,183.65" fill="#0d24bc" stroke="#111" stroke-width="0.6" stroke-linejoin="miter"/>
<polygon points="514.5,166.45 520.8,161.15 520.8,164.85 514.5,170.15" fill="#0d24bc" stroke="#111" stroke-width="0.6" stroke-linejoin="miter"/>
<polygon points="520.4,152.85 526,147.65 526,151.35 520.4,156.55" fill="#0d24bc" stroke="#111" stroke-width="0.6" stroke-linejoin="miter"/>
<polygon points="526,147.65 530.8,142.95 530.8,146.65 526,151.35" fill="#c80034" stroke="#111" stroke-width="0.6" stroke-linejoin="miter"/>
<polygon points="544.3,128.65 550.6,122.45 550.6,126.15 544.3,132.35" fill="#c80034" stroke="#111" stroke-width="0.6" stroke-linejoin="miter"/>
<polygon points="553,123.15 573.7,103.65 573.7,107.35 553,126.85" fill="#0d24bc" stroke="#111" stroke-width="0.6" stroke-linejoin="miter"/>
<polygon points="578.4,100.85 582,97.75 582,101.45 578.4,104.55" fill="#c80034" stroke="#111" stroke-width="0.6" stroke-linejoin="miter"/>
<polygon points="582,97.75 584.8,95.05 584.8,98.75 582,101.45" fill="#0d24bc" stroke="#111" stroke-width="0.6" stroke-linejoin="miter"/>
<polygon points="585.9,93.75 588.2,91.85 588.2,95.55 585.9,97.45" fill="#0d24bc" stroke="#111" stroke-width="0.6" stroke-linejoin="miter"/>
<polygon points="588.2,91.85 611.4,72.95 611.4,76.65 588.2,95.55" fill="#e4ad02" stroke="#111" stroke-width="0.6" stroke-linejoin="miter"/>
<polygon points="612,72.35 614,70.35 614,74.05 612,76.05" fill="#0d24bc" stroke="#111" stroke-width="0.6" stroke-linejoin="miter"/>
<polygon points="617,69.15 658.3,34.15 658.3,37.85 617,72.85" fill="#0d24bc" stroke="#111" stroke-width="0.6" stroke-linejoin="miter"/>
<polygon points="658.3,34.15 664.8,27.75 664.8,31.45 658.3,37.85" fill="#c80034" stroke="#111" stroke-width="0.6" stroke-linejoin="miter"/>
<svg x="2" y="399" width="203" height="174" viewBox="2 399 203 174" overflow="hidden">
<rect x="2" y="399" width="203" height="174" fill="#000"/>
<g filter="url(#blur1)">
<path d="M20 400 C30 440 60 470 100 480" stroke="#160406" stroke-width="4" fill="none"/>
<path d="M60 399 C70 430 85 450 95 470" stroke="#120306" stroke-width="3.5" fill="none"/>
<path d="M91 399 L206 399 L206 418 C196 414 188 412 180 412 C160 411 140 412 125 415 C112 419 100 426 91 433Z" fill="#03031f"/>
<circle cx="128.59" cy="403.16" r="1.75" fill="#0c1890"/>
<circle cx="184.8" cy="400.51" r="1.66" fill="#0a1478"/>
<circle cx="96.24" cy="413.36" r="0.99" fill="#0c1890"/>
<circle cx="154.27" cy="400.37" r="1.64" fill="#0a1478"/>
<circle cx="163.26" cy="411.66" r="0.98" fill="#08105c"/>
<circle cx="97.6" cy="406.27" r="1.62" fill="#0a1478"/>
<circle cx="124.73" cy="403.08" r="1.05" fill="#1020a8"/>
<circle cx="155.31" cy="414.73" r="1.03" fill="#0a1478"/>
<circle cx="134.08" cy="413.61" r="0.98" fill="#0c1890"/>
<circle cx="161.95" cy="409.89" r="1.59" fill="#1020a8"/>
<circle cx="144.61" cy="421.98" r="1.37" fill="#0a1478"/>
<circle cx="181.76" cy="410.18" r="1.22" fill="#1020a8"/>
<circle cx="151.35" cy="419.78" r="1.85" fill="#1020a8"/>
<circle cx="160.81" cy="400.62" r="1.57" fill="#0a1478"/>
<circle cx="177.56" cy="401.93" r="1.54" fill="#0c1890"/>
<circle cx="200.71" cy="400.24" r="1.63" fill="#1020a8"/>
<circle cx="130.43" cy="408.56" r="1.55" fill="#08105c"/>
<circle cx="99.77" cy="402.04" r="1.25" fill="#0c1890"/>
<circle cx="98.86" cy="421.91" r="1.74" fill="#08105c"/>
<circle cx="124.16" cy="409.94" r="1.77" fill="#0c1890"/>
<circle cx="198.29" cy="404.69" r="1.69" fill="#08105c"/>
<circle cx="98.66" cy="424.12" r="1.07" fill="#0a1478"/>
<circle cx="136.96" cy="423.01" r="1.55" fill="#0a1478"/>
<circle cx="142.76" cy="412.85" r="2.05" fill="#08105c"/>
<circle cx="189.63" cy="403.45" r="1.44" fill="#1020a8"/>
<circle cx="169.15" cy="406.88" r="1.2" fill="#0c1890"/>
<circle cx="111.91" cy="406.06" r="1.2" fill="#08105c"/>
<circle cx="185.91" cy="401.92" r="1.27" fill="#0a1478"/>
<circle cx="139.34" cy="408.52" r="1.64" fill="#0a1478"/>
<circle cx="170.03" cy="409.6" r="1.7" fill="#0c1890"/>
<circle cx="143.6" cy="420.82" r="2.14" fill="#08105c"/>
<circle cx="136.98" cy="409.32" r="1.53" fill="#08105c"/>
<circle cx="99.03" cy="401.2" r="1.17" fill="#0a1478"/>
<circle cx="104.42" cy="418.05" r="1.03" fill="#0a1478"/>
<circle cx="152.64" cy="421.32" r="1.7" fill="#0c1890"/>
<circle cx="190.8" cy="408.83" r="1.09" fill="#1020a8"/>
<circle cx="199.97" cy="408.64" r="1.52" fill="#0c1890"/>
<circle cx="187.93" cy="414.89" r="1.51" fill="#08105c"/>
<circle cx="127.24" cy="403.01" r="1.87" fill="#1020a8"/>
<circle cx="146.08" cy="416.05" r="1.57" fill="#0a1478"/>
<circle cx="199.46" cy="407.45" r="1.09" fill="#0c1890"/>
<circle cx="177.67" cy="404.74" r="1.74" fill="#0c1890"/>
<circle cx="170.67" cy="404.34" r="1.38" fill="#0a1478"/>
<circle cx="132.19" cy="405.01" r="1.6" fill="#1020a8"/>
<circle cx="163.92" cy="412.25" r="1.92" fill="#0a1478"/>
<circle cx="183.09" cy="412.09" r="1.86" fill="#0a1478"/>
<circle cx="114.59" cy="413.78" r="1.85" fill="#0c1890"/>
<circle cx="181.28" cy="406.56" r="1.15" fill="#1020a8"/>
<circle cx="142.54" cy="422.65" r="2.18" fill="#1020a8"/>
<circle cx="101.1" cy="402.3" r="1.51" fill="#1020a8"/>
<circle cx="115.09" cy="417.66" r="2.07" fill="#0c1890"/>
<circle cx="146.18" cy="415.08" r="1.94" fill="#0c1890"/>
<circle cx="186.32" cy="400.92" r="1.41" fill="#0a1478"/>
<circle cx="146.02" cy="403.4" r="1.93" fill="#1020a8"/>
<circle cx="101.8" cy="429.43" r="1.84" fill="#08105c"/>
<circle cx="137.36" cy="423.73" r="1.84" fill="#0a1478"/>
<circle cx="204.22" cy="399.44" r="1.67" fill="#08105c"/>
<circle cx="183.13" cy="401.34" r="1.97" fill="#08105c"/>
<circle cx="166.27" cy="406.43" r="1.61" fill="#0a1478"/>
<circle cx="94.42" cy="425.71" r="1.84" fill="#0c1890"/>
<circle cx="151.5" cy="421.14" r="1.46" fill="#0a1478"/>
<circle cx="185.36" cy="402.38" r="1.23" fill="#1020a8"/>
<circle cx="148.63" cy="417.48" r="1.32" fill="#08105c"/>
<circle cx="186.26" cy="399.97" r="1.86" fill="#08105c"/>
<circle cx="166.86" cy="416.2" r="1.57" fill="#0a1478"/>
<circle cx="152.1" cy="411.36" r="0.92" fill="#08105c"/>
<circle cx="179.75" cy="410.51" r="1.91" fill="#0a1478"/>
<circle cx="111.48" cy="413.45" r="1.84" fill="#0c1890"/>
<circle cx="128.84" cy="413.29" r="1.62" fill="#0c1890"/>
<circle cx="191.8" cy="399.91" r="1.15" fill="#0c1890"/>
<path d="M2 540 C25 552 60 556 100 559 C140 562 170 563 205 566" stroke="#1c1ca0" stroke-width="4" fill="none"/>
<path d="M85 562 C120 564 160 566 205 567 L205 573 L85 573 Z" fill="#0a0a58"/>
<path d="M2 548 C30 556 60 560 100 562 L100 573 L2 573Z" fill="#080840"/>
<path d="M78 438 C95 428 110 419 122 415.5 C150 411 170 411 184 412.8 C195 415 199 422 197 430 C190 450 180 470 172 486 C166 505 163 525 160 548" stroke="#14148a" stroke-width="1.5" fill="none"/>
<path d="M202 424 C196 440 190 455 184 470 C178 490 174 510 172 540" stroke="#16168a" stroke-width="1.8" fill="none"/>
<path d="M205 430 C200 460 195 490 193 540" stroke="#08083a" stroke-width="5" fill="none"/>
<path d="M125 525 C140 535 150 545 160 555" stroke="#06063a" stroke-width="5" fill="none"/>
</g>
<g filter="url(#blur2)">
<polygon points="63.5,464 66.5,455.5 76,453.5 89.5,450.5 88.5,457 81.5,466 78.5,476.5 72,477.5 64.5,471" fill="#ea060e"/>
<polygon points="29.5,489.5 33.5,480 43,471.5 55,467.5 60.5,472 59.5,482 52,488.5 40,491.5" fill="#ea060e"/>
<ellipse cx="28.5" cy="505" rx="14.5" ry="9" fill="#ea060e" transform="rotate(-8 28.5 505)"/>
<ellipse cx="80.3" cy="502.5" rx="6.4" ry="10" fill="#dc040c"/>
<polygon points="41.3,523.5 60,521.5 81.5,519.3 86,528.7 84.5,538 80.5,544.5 70,541.5 55.6,534 43.5,528.5" fill="#dc040c"/>
<ellipse cx="37" cy="543.3" rx="14.5" ry="6.4" fill="#ea060e"/>
<polygon points="85.5,554 90,546.5 100,541.5 108,541 116.5,545 120.5,552 115.5,558.5 100,559 88,558.5" fill="#ea060e"/>
<ellipse cx="107" cy="527" rx="8.2" ry="8" fill="#ea060e"/>
<circle cx="100.5" cy="470" r="1.6" fill="#a01010"/>
<polygon points="116,423.5 124,422.5 129,428 128,440 122.5,451.5 113,458 106,455.5 107.5,445 111.5,432" fill="#ea060e"/>
<ellipse cx="139.2" cy="454.5" rx="6.4" ry="16.4" fill="#ea060e" transform="rotate(35 139.2 454.5)"/>
<ellipse cx="154.5" cy="451.5" rx="6.9" ry="17.4" fill="#ea060e" transform="rotate(30 154.5 451.5)"/>
<ellipse cx="155.7" cy="417.6" rx="2.8" ry="3" fill="#b81010"/>
<ellipse cx="165.7" cy="419" rx="3.2" ry="5.2" fill="#d01010" transform="rotate(30 165.7 419)"/>
<ellipse cx="180" cy="418.4" rx="8.6" ry="5" fill="#fa0a10" transform="rotate(-15 180 418.4)"/>
<ellipse cx="187.5" cy="432" rx="5.2" ry="10.4" fill="#fa0a10" transform="rotate(30 187.5 432)"/>
<ellipse cx="175.5" cy="452.4" rx="6.4" ry="10.4" fill="#fa0a10" transform="rotate(35 175.5 452.4)"/>
<ellipse cx="169.6" cy="476.7" rx="5.9" ry="10.4" fill="#fa0a10" transform="rotate(18 169.6 476.7)"/>
<ellipse cx="148.4" cy="483.5" rx="5.9" ry="12.9" fill="#ea060e" transform="rotate(15 148.4 483.5)"/>
<ellipse cx="131" cy="490" rx="6.9" ry="9.9" fill="#ea060e" transform="rotate(30 131 490)"/>
<ellipse cx="160.9" cy="504" rx="5.2" ry="8.2" fill="#fa0a10" transform="rotate(15 160.9 504)"/>
<ellipse cx="121.5" cy="517.4" rx="7.6" ry="10.9" fill="#ea060e" transform="rotate(-25 121.5 517.4)"/>
<ellipse cx="151" cy="521.4" rx="9.4" ry="9.4" fill="#fa0a10"/>
<ellipse cx="134.5" cy="541.7" rx="14.6" ry="7.7" fill="#ea060e"/>
</g>
<rect x="2" y="399" width="203" height="174" fill="#000" filter="url(#rednoise)"/>
<circle cx="76.7" cy="462.7" r="2.4" fill="#300000"/>
<circle cx="79" cy="470" r="1" fill="#300000"/>
<circle cx="70" cy="467" r="0.9" fill="#300000"/>
<circle cx="28" cy="506.8" r="2.3" fill="#300000"/>
<circle cx="21.5" cy="505" r="1.2" fill="#300000"/>
<circle cx="34" cy="503" r="0.8" fill="#300000"/>
<circle cx="71" cy="536" r="3" fill="#300000"/>
<circle cx="32.8" cy="543.3" r="2.2" fill="#300000"/>
<circle cx="41.8" cy="545" r="2" fill="#300000"/>
<circle cx="104" cy="549" r="3.3" fill="#300000"/>
<circle cx="111.4" cy="555.5" r="2" fill="#300000"/>
<circle cx="124" cy="431" r="1.8" fill="#300000"/>
<circle cx="119" cy="443" r="2" fill="#300000"/>
<circle cx="120" cy="448" r="1.3" fill="#300000"/>
<circle cx="179.7" cy="419.1" r="1.3" fill="#300000"/>
<circle cx="118.7" cy="514" r="2" fill="#300000"/>
<circle cx="152.8" cy="523" r="1.8" fill="#300000"/>
<circle cx="133.3" cy="542.5" r="2.5" fill="#300000"/>
<circle cx="138.5" cy="545" r="1.5" fill="#300000"/>
<circle cx="132" cy="463" r="1.3" fill="#300000"/>
<circle cx="45" cy="478" r="1" fill="#300000"/>
<circle cx="53" cy="472" r="0.8" fill="#300000"/>
<circle cx="108" cy="529" r="1" fill="#300000"/>
<circle cx="150" cy="480" r="1" fill="#300000"/>
<rect x="163.3" y="562" width="37.8" height="2.7" fill="#fff"/>
<text x="7.6" y="415.5" font-size="13" font-weight="bold" fill="#fff">C1</text>
</svg>
<svg x="208.5" y="399" width="216.5" height="174" viewBox="208.5 399 216.5 174" overflow="hidden">
<rect x="208" y="399" width="218" height="174" fill="#a9a9a9"/>
<rect x="208" y="399" width="218" height="174" fill="#fff" filter="url(#speck)"/>
<rect x="208" y="399" width="218" height="174" fill="#000" filter="url(#speckd)"/>
<path d="M336 399 C340 420 348 440 356 452 C366 466 380 478 396 485 C405 489 415 490 426 489 L426 399Z" fill="#c3c3c3"/>
<path d="M362 418 C372 410 388 412 394 420 C398 428 392 436 380 436 C370 436 360 430 362 418Z" fill="#ababab" stroke="#8c8c8c" stroke-width="1.6"/>
<path d="M394 414 C402 406 416 408 420 416 C424 426 414 434 404 432 C396 430 390 422 394 414Z" fill="#ababab" stroke="#8c8c8c" stroke-width="1.6"/>
<path d="M380 399 L412 399 C412 405 404 410 396 409 C388 408 382 404 380 399Z" fill="#ababab" stroke="#8c8c8c" stroke-width="1.6"/>
<path d="M408 446 C414 440 424 441 426 446 L426 464 C418 466 410 462 408 456Z" fill="#ababab" stroke="#8c8c8c" stroke-width="1.6"/>
<path d="M352 404 C356 400 364 402 364 408 C364 414 358 416 354 413 C350 410 350 407 352 404Z" fill="#ababab" stroke="#8c8c8c" stroke-width="1.6"/>
<g fill="#555"><circle cx="381" cy="459" r="1"/><circle cx="400" cy="460" r="1"/><circle cx="392" cy="447" r="0.8"/><circle cx="372" cy="451" r="0.8"/><circle cx="405" cy="472" r="0.8"/></g>
<path d="M328.8 399 L335.5 399 C337 412 341 424 345 432 C349 442 354 450 360 456 C368 464 378 472 390 478 C398 482 408 485 426 486.5 L426 493 C410 493 398 490 386 484 C374 478 362 469 354 460 C346 450 341 440 337 430 C333 420 330 410 328.8 399Z" fill="#f6f6f6"/>
<path d="M400 489 C410 490 418 500 420.5 515 C422 532 419 548 411 560 L426 560 L426 488Z" fill="#f2f2f2"/>
<path d="M208 534 C216 536 226 545 232 556 C236 564 240 570 242 573 L208 573Z" fill="#c2c2c2"/>
<path d="M208 518 C214 519 220 524 226 532 C232 540 238 550 244 557 C252 564 270 566 300 567 C310 567 320 566 330 565 L330 573 L244 573 C238 566 232 556 226 546 C220 538 214 533 208 532Z" fill="#f0f0f0"/>
<path d="M346 543 C350 541 356 543 358 548 C360 554 358 561 354 564 C350 562 347 554 346 543Z" fill="#f2f2f2"/>
<path d="M251 463 L256 463 L257 480 L252 480Z" fill="#ececec"/>
<path d="M326 573 L326 566 C350 563 390 561 426 560 L426 573Z" fill="#a2a2a2"/>
<ellipse cx="218" cy="556" rx="12" ry="9" fill="#b0b0b0" stroke="#9a9a9a" stroke-width="0.8"/>
<ellipse cx="226" cy="570" rx="14" ry="6" fill="#b3b3b3" stroke="#9a9a9a" stroke-width="0.8"/>
<ellipse cx="226" cy="412" rx="21.8" ry="17.8" fill="#aaaaaa" stroke="#858585" stroke-width="1.1"/>
<ellipse cx="263" cy="413" rx="18.3" ry="18.8" fill="#a6a6a6" stroke="#858585" stroke-width="1.1"/>
<ellipse cx="312" cy="421" rx="18.8" ry="21.8" fill="#a5a5a5" transform="rotate(-15 312 421)" stroke="#858585" stroke-width="1.1"/>
<ellipse cx="226" cy="454" rx="22.8" ry="25.8" fill="#a3a3a3" stroke="#858585" stroke-width="1.1"/>
<ellipse cx="243" cy="484" rx="10.8" ry="12.8" fill="#a7a7a7" stroke="#858585" stroke-width="1.1"/>
<ellipse cx="294" cy="450.5" rx="28.8" ry="17.8" fill="#a5a5a5" transform="rotate(22 294 450.5)" stroke="#858585" stroke-width="1.1"/>
<ellipse cx="278" cy="473.5" rx="26.8" ry="15.8" fill="#a6a6a6" transform="rotate(51 278 473.5)" stroke="#858585" stroke-width="1.1"/>
<ellipse cx="347.5" cy="465.5" rx="27.8" ry="25.3" fill="#a3a3a3" transform="rotate(10 347.5 465.5)" stroke="#858585" stroke-width="1.1"/>
<ellipse cx="323" cy="492.5" rx="16.8" ry="12.3" fill="#a8a8a8" stroke="#858585" stroke-width="1.1"/>
<ellipse cx="362.7" cy="501.6" rx="10.8" ry="8.8" fill="#8c8c8c" stroke="#858585" stroke-width="1.1"/>
<ellipse cx="228" cy="508" rx="17.8" ry="17.8" fill="#a6a6a6" stroke="#858585" stroke-width="1.1"/>
<ellipse cx="287.4" cy="518" rx="14.4" ry="16.8" fill="#a4a4a4" stroke="#858585" stroke-width="1.1"/>
<ellipse cx="323" cy="518" rx="22.8" ry="13.3" fill="#a2a2a2" stroke="#858585" stroke-width="1.1"/>
<ellipse cx="355.8" cy="527.5" rx="15" ry="14.3" fill="#a4a4a4" stroke="#858585" stroke-width="1.1"/>
<ellipse cx="388" cy="503.4" rx="18.8" ry="13.5" fill="#a4a4a4" stroke="#858585" stroke-width="1.1"/>
<ellipse cx="407" cy="525" rx="9.5" ry="12" fill="#a9a9a9" stroke="#858585" stroke-width="1.1"/>
<ellipse cx="394.5" cy="547.5" rx="17.3" ry="10.3" fill="#ababab" stroke="#858585" stroke-width="1.1"/>
<ellipse cx="263" cy="550.5" rx="17.8" ry="15.3" fill="#a1a1a1" stroke="#858585" stroke-width="1.1"/>
<ellipse cx="322.6" cy="550" rx="19.8" ry="11.8" fill="#a4a4a4" stroke="#858585" stroke-width="1.1"/>
<ellipse cx="382.6" cy="533.6" rx="14.6" ry="9.4" fill="#6f6f6f" stroke="#555" stroke-width="0.8"/>
<ellipse cx="301.5" cy="555.3" rx="14.4" ry="11" fill="#6d6d6d" stroke="#555" stroke-width="0.8"/>
<ellipse cx="220.8" cy="452.8" rx="3.6" ry="3" fill="#6a6a6a"/>
<ellipse cx="291.7" cy="440.4" rx="3.5" ry="3" fill="#6a6a6a"/>
<ellipse cx="298.4" cy="453.7" rx="3.5" ry="4" fill="#666"/>
<ellipse cx="289" cy="452.8" rx="2" ry="2" fill="#666"/>
<ellipse cx="306" cy="457.5" rx="1.8" ry="1.8" fill="#666"/>
<ellipse cx="306.7" cy="420.7" rx="1.6" ry="1.6" fill="#666"/>
<ellipse cx="353.4" cy="474.6" rx="4.3" ry="4.3" fill="#777"/>
<ellipse cx="357.2" cy="465" rx="1.7" ry="1.7" fill="#111"/>
<ellipse cx="333.5" cy="514.4" rx="4" ry="3" fill="#666"/>
<ellipse cx="320.2" cy="524" rx="4" ry="3" fill="#333"/>
<ellipse cx="255.4" cy="548" rx="3" ry="2.5" fill="#666"/>
<ellipse cx="267.4" cy="549.4" rx="3" ry="2" fill="#666"/>
<ellipse cx="296.3" cy="555" rx="4" ry="6" fill="#555"/>
<ellipse cx="390" cy="528" rx="3" ry="2.5" fill="#5a5a5a"/>
<path d="M267.5 399 C262 408 256 416 248 427" stroke="#4a4a4a" stroke-width="3"/>
<g filter="url(#blur1)" stroke="#5c5c5c" fill="none" stroke-linecap="round"><path d="M312 471 C306 480 300 488 297 497" stroke-width="3.2"/><path d="M312 471 C322 476 332 480 341 485" stroke-width="2.6"/><path d="M312 471 C314 462 316 452 318 445" stroke-width="2"/><path d="M312 471 C305 469 300 467 295 465" stroke-width="2"/><ellipse cx="313" cy="472" rx="6" ry="4.5" fill="#6a6a6a" stroke="none"/></g>
<path d="M208 479 L226 480" stroke="#222" stroke-width="1.4"/>
<path d="M347 497 l4 0 l-1.5 5Z" fill="#111"/>
<text x="211.2" y="414.5" font-size="13" font-weight="bold" fill="#000">C2</text>
<text x="278.6" y="443.8" font-size="12.3" fill="#000">V</text>
<text x="307.8" y="521.3" font-size="12.3" fill="#000">V</text>
<text x="380" y="537.5" font-size="12.3" fill="#000">V</text>
<text x="311.2" y="475.5" font-size="11.6" fill="#fff">bn</text>
<rect x="385.5" y="562.2" width="31.5" height="2.4" fill="#000"/>
</svg>
<svg x="427" y="399" width="254.5" height="174" viewBox="427 399 254.5 174" overflow="hidden">
<rect x="427" y="399" width="255" height="174" fill="#9c9c9c"/>
<g filter="url(#blur3)">
<ellipse cx="470" cy="440" rx="22" ry="10" fill="#b2b2b2"/>
<ellipse cx="530" cy="425" rx="18" ry="8" fill="#acacac"/>
<ellipse cx="600" cy="438" rx="18" ry="9" fill="#b4b4b4"/>
<ellipse cx="648" cy="440" rx="10" ry="10" fill="#aaaaaa"/>
<ellipse cx="460" cy="545" rx="18" ry="8" fill="#b4b4b4"/>
<ellipse cx="500" cy="553" rx="20" ry="6" fill="#c0c0c0"/>
<ellipse cx="452" cy="525" rx="8" ry="12" fill="#a8a8a8"/>
</g>
<g filter="url(#blur4)"><path d="M492 446 C512 432 560 428 600 436 C628 442 650 462 656 490 C662 520 660 548 648 562 C620 570 560 568 522 564 C498 558 486 540 484 515 C482 490 482 460 492 446Z" fill="#b0b0b0"/></g>
<g filter="url(#blur3)"><path d="M427 445 C440 442 455 445 468 452 C478 470 480 500 478 530 C478 550 482 565 490 573 L427 573Z" fill="#888888"/></g>
<g filter="url(#blur3)"><path d="M505 399 L682 399 L682 430 C650 428 620 424 590 422 C560 420 530 420 505 416Z" fill="#888888"/></g>
<g filter="url(#blur2)">
<ellipse cx="535" cy="404" rx="8" ry="6" fill="#7c7c7c"/>
<ellipse cx="560" cy="405" rx="7" ry="6" fill="#7a7a7a"/>
<ellipse cx="585" cy="402" rx="8" ry="5" fill="#7e7e7e"/>
<ellipse cx="612" cy="404" rx="9" ry="6" fill="#7c7c7c"/>
<ellipse cx="640" cy="403" rx="8" ry="6" fill="#7e7e7e"/>
<ellipse cx="665" cy="403" rx="9" ry="6" fill="#7a7a7a"/>
<ellipse cx="525" cy="418" rx="6" ry="5" fill="#848484"/>
<ellipse cx="572" cy="420" rx="7" ry="5" fill="#808080"/>
<ellipse cx="650" cy="422" rx="7" ry="6" fill="#7e7e7e"/>
<ellipse cx="676" cy="425" rx="6" ry="7" fill="#7c7c7c"/>
<ellipse cx="453.5" cy="447.6" rx="11" ry="10" fill="#787878"/>
<ellipse cx="506" cy="431" rx="9.5" ry="9" fill="#767676"/>
<ellipse cx="614.5" cy="452.8" rx="8.5" ry="10" fill="#686868"/>
<ellipse cx="642" cy="450" rx="9" ry="9" fill="#888"/>
<ellipse cx="488.5" cy="445.5" rx="6" ry="6" fill="#8a8a8a"/>
<ellipse cx="546" cy="412" rx="8" ry="9" fill="#858585"/>
<ellipse cx="559" cy="421" rx="9" ry="10" fill="#888"/>
<ellipse cx="580" cy="413" rx="11" ry="7" fill="#868686"/>
<ellipse cx="602" cy="419" rx="11" ry="9" fill="#878787"/>
<ellipse cx="630" cy="428" rx="9" ry="7" fill="#858585"/>
<ellipse cx="661" cy="430" rx="11" ry="9" fill="#848484"/>
<ellipse cx="674" cy="410" rx="8" ry="8" fill="#858585"/>
<ellipse cx="528" cy="408" rx="7" ry="6" fill="#8a8a8a"/>
<ellipse cx="492" cy="416" rx="6" ry="5" fill="#8c8c8c"/>
<ellipse cx="674" cy="466" rx="8" ry="22" fill="#868686"/>
<ellipse cx="670" cy="522" rx="10" ry="25" fill="#8a8a8a"/>
<ellipse cx="676" cy="558" rx="6" ry="12" fill="#848484"/>
<ellipse cx="437" cy="478" rx="10" ry="16" fill="#7e7e7e"/>
<ellipse cx="452" cy="500" rx="10" ry="12" fill="#858585"/>
<ellipse cx="440" cy="515" rx="8" ry="9" fill="#8a8a8a"/>
<ellipse cx="466" cy="500" rx="8" ry="14" fill="#8e8e8e"/>
<ellipse cx="436" cy="551" rx="9" ry="11" fill="#747474"/>
<ellipse cx="455" cy="562" rx="12" ry="10" fill="#737373"/>
<ellipse cx="479" cy="566" rx="12" ry="7" fill="#787878"/>
<ellipse cx="505" cy="568" rx="10" ry="5" fill="#8a8a8a"/>
<ellipse cx="468" cy="535" rx="7" ry="8" fill="#8a8a8a"/>
<ellipse cx="488" cy="540" rx="6" ry="8" fill="#8e8e8e"/>
<ellipse cx="542" cy="569" rx="12" ry="4" fill="#8e8e8e"/>
<ellipse cx="600" cy="569" rx="14" ry="4" fill="#8e8e8e"/>
<ellipse cx="650" cy="566" rx="10" ry="6" fill="#888"/>
<ellipse cx="478" cy="470" rx="7" ry="8" fill="#8e8e8e"/>
<ellipse cx="470" cy="455" rx="6" ry="5" fill="#8c8c8c"/>
<ellipse cx="520" cy="440" rx="6" ry="5" fill="#909090"/>
</g>
<rect x="427" y="399" width="255" height="174" fill="#fff" filter="url(#grainL)"/>
<rect x="427" y="399" width="255" height="174" fill="#000" filter="url(#grainD)"/>
<path d="M427 399 L536 399 C528 401 516 402 505 403 C480 412 456 423 427 437Z" fill="#c8c8c8"/>
<path d="M427 399 L505 399 C500 401 496 402 494 403 C472 413 450 424 427 436Z" fill="#e6e6e6"/>
<path d="M512 401 C486 413 458 427 427 442" stroke="#b6b6b6" stroke-width="5" fill="none" filter="url(#blur1)"/>
<path d="M504 400 C480 411 455 423 427 436.5" stroke="#6e6e6e" stroke-width="0.9" fill="none"/>
<path d="M494 553 C515 556 545 557 582 552" stroke="#dadada" stroke-width="1.4" fill="none"/>
<path d="M500 560 C530 562 555 563 585 561" stroke="#d2d2d2" stroke-width="1.2" fill="none"/>
<path d="M494 518 C497 524 499 530 501 534" stroke="#d0d0d0" stroke-width="1.6" fill="none"/>
<circle cx="626.3" cy="497.6" r="2.4" fill="#545454"/>
<circle cx="629" cy="529" r="2.8" fill="#545454"/>
<circle cx="605.4" cy="536.5" r="2" fill="#545454"/>
<circle cx="617" cy="487.4" r="1.8" fill="#545454"/>
<circle cx="644.8" cy="483.3" r="1.8" fill="#545454"/>
<circle cx="561.5" cy="483.3" r="1.4" fill="#545454"/>
<circle cx="563.3" cy="552" r="1.4" fill="#545454"/>
<circle cx="545" cy="456" r="1.4" fill="#545454"/>
<circle cx="520" cy="470" r="1.3" fill="#545454"/>
<circle cx="538" cy="492" r="1.1" fill="#545454"/>
<circle cx="597" cy="482" r="1.2" fill="#545454"/>
<circle cx="577" cy="508" r="1.2" fill="#545454"/>
<circle cx="507" cy="530" r="1.6" fill="#545454"/>
<circle cx="535" cy="435" r="1.3" fill="#545454"/>
<circle cx="590" cy="455" r="1.2" fill="#545454"/>
<circle cx="615" cy="463" r="1.1" fill="#545454"/>
<circle cx="585" cy="525" r="1.1" fill="#545454"/>
<text x="428.8" y="413.8" font-size="13" font-weight="bold" fill="#000">C3</text>
<text x="451.2" y="448.8" font-size="12.6" fill="#fff">m</text>
<text x="502.1" y="434.3" font-size="12.6" fill="#000">m</text>
<text x="635.5" y="448.6" font-size="12.6" fill="#000">m</text>
<text x="565.2" y="484.4" font-size="12.3" fill="#000">V</text>
<rect x="640.2" y="562.6" width="31.2" height="2.8" fill="#000"/>
</svg>
</svg></body></html>
